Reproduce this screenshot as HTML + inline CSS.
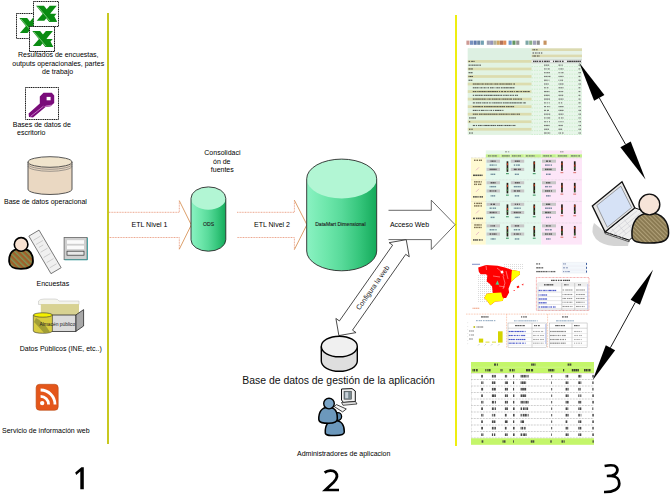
<!DOCTYPE html>
<html><head><meta charset="utf-8">
<style>
html,body{margin:0;padding:0;background:#fff;width:670px;height:494px;overflow:hidden}
svg{display:block;font-family:"Liberation Sans",sans-serif}
.t7{font-size:7px;fill:#000}
</style></head>
<body>
<svg width="670" height="494" viewBox="0 0 670 494">
<defs>
  <linearGradient id="gcyl" x1="0" x2="1" y1="0" y2="0">
    <stop offset="0" stop-color="#8af2c2"/>
    <stop offset="0.3" stop-color="#6ce6aa"/>
    <stop offset="0.5" stop-color="#58da9a"/>
    <stop offset="0.75" stop-color="#36c67c"/>
    <stop offset="1" stop-color="#14aa5a"/>
  </linearGradient>
  <pattern id="stripeBrown" width="4" height="4" patternUnits="userSpaceOnUse" patternTransform="rotate(-45)">
    <rect width="4" height="4" fill="#a0602a"/>
    <rect width="1.4" height="4" fill="#7c9a5a"/>
  </pattern>
  <pattern id="stripeOlive" width="3" height="3" patternUnits="userSpaceOnUse" patternTransform="rotate(-45)">
    <rect width="3" height="3" fill="#8a7a52"/>
    <rect width="1" height="3" fill="#b0a078"/>
  </pattern>
</defs>

<!-- separators -->
<rect x="107" y="13" width="2" height="431" fill="#c8c820"/>
<rect x="455" y="15" width="2" height="431" fill="#eeee10"/>

<!-- ===== column 1 ===== -->
<!-- excel icons -->
<g id="xl">
  <rect x="16.5" y="13.5" width="25" height="25" fill="#fff" stroke="#111" stroke-dasharray="1.2 0.6"/>
  <rect x="33.5" y="1.5" width="25" height="25" fill="#fff" stroke="#111" stroke-dasharray="1.2 0.6"/>
  <rect x="29.5" y="26.5" width="25" height="25" fill="#fff" stroke="#111" stroke-dasharray="1.2 0.6"/>
</g>
<defs>
  <g id="xmark">
    <path d="M2.8,4.6 L10.6,4.6 L23.8,20.6 L15.8,20.6 Z" fill="#0a8c12"/>
    <path d="M16.4,4.6 L23.4,4.6 L11,19.6 L3.4,19.6 Z" fill="#0a8c12"/>
    <path d="M14,12.6 L23.2,12.6 L21,15 L23.8,20.6 L15.8,20.6 Z" fill="#0a8c12"/>
    <path d="M4.5,5.4 L16.6,19.8" stroke="#b8e8b0" stroke-width="0.6"/>
  </g>
</defs>
<svg x="16.5" y="13.5" width="17" height="25" overflow="hidden"><use href="#xmark"/></svg>
<use href="#xmark" x="33.3" y="1.2"/>
<rect x="29.5" y="26.5" width="25" height="25" fill="#fff" stroke="#111" stroke-dasharray="1.2 0.6"/>
<use href="#xmark" x="29.5" y="26.5"/>
<text class="t7" x="18" y="56.5">Resultados de encuestas,</text>
<text class="t7" x="12.3" y="65.5">outputs operacionales, partes</text>
<text class="t7" x="42" y="73.8">de trabajo</text>

<!-- key -->
<rect x="25.5" y="87.5" width="33" height="32" fill="#fff" stroke="#111" stroke-dasharray="1.2 0.6"/>
<path d="M43.5,92.8 L51.8,92.8 L54.2,95.5 L54.2,103 L50.5,106.2 L45.5,107 L33,117.6 L29,117 L28.6,113.5 L39.8,103.5 L39.8,96.5 Z" fill="#7a0c7a"/>
<path d="M45.5,107 L50.5,106.2 L54.2,103 L52.5,104.6 L46,105.6 L43.5,107.2 Z" fill="#c070c0"/>
<path d="M30.5,116.5 L43.5,106.2" stroke="#e0a0e0" stroke-width="0.7"/>
<rect x="46.6" y="96.9" width="4" height="3.4" fill="#fff"/>
<text class="t7" x="12.8" y="126.5">Bases de datos de</text>
<text class="t7" x="17" y="135">escritorio</text>

<!-- operational db -->
<path d="M28,162 v27.2 a22,5.3 0 0 0 44,0 v-27.2" fill="#ead8c2" stroke="#444" stroke-width="0.9"/>
<path d="M28,164 a22,5.3 0 0 0 44,0 M28,166 a22,5.3 0 0 0 44,0" fill="none" stroke="#666" stroke-width="0.6"/>
<ellipse cx="50" cy="162" rx="22" ry="5.3" fill="#f0e4cc" stroke="#444" stroke-width="0.9"/>
<text class="t7" x="4" y="204">Base de datos operacional</text>

<!-- survey person -->
<path d="M9.2,262 C8.5,253 13,248.6 21,248.6 C29,248.6 33,253 33,261 C33,266.5 29,268.8 21,268.8 C13,268.8 9.6,267 9.2,262 Z" fill="url(#stripeBrown)" stroke="#000" stroke-width="1.8"/>
<circle cx="21.1" cy="244.4" r="6.8" fill="#f8e2d2" stroke="#000" stroke-width="1.6"/>
<!-- paper -->
<rect x="39.1" y="230.1" width="11.8" height="43.6" fill="#f0f0f0" stroke="#555" stroke-width="0.7" transform="rotate(-30.5 45 251.9)"/>
<g transform="rotate(-30.5 45 251.9)" stroke="#b0b0b0" stroke-width="0.5" fill="none">
<path d="M41,236 h8 M41,241 h8 M42,245 h5 M41,250 h8 M41,256 h8 M41,262 h8 M41,268 h8"/>
</g>
<!-- form -->
<rect x="64.1" y="237.4" width="23" height="22.2" fill="#cfcfcf" stroke="#666" stroke-width="0.8"/>
<path d="M64.5,259.8 H87.4 V237.8" fill="none" stroke="#40a0a0" stroke-width="1"/>
<rect x="67" y="240.2" width="17" height="3.6" fill="#fafafa"/>
<rect x="67" y="245.6" width="17" height="3.6" fill="#fafafa"/>
<rect x="67" y="251.2" width="17" height="4" fill="#e8e8e8" stroke="#333" stroke-width="0.7"/>
<text class="t7" x="36.5" y="285.7">Encuestas</text>
<!-- public data -->
<path d="M38.5,304.5 V301 Q40,299 44,299 H55 Q58,299 59,301 H79 V304.5 Z" fill="#f4f4ec" stroke="#bbb" stroke-width="0.5"/>
<rect x="40.8" y="304.1" width="38.2" height="10.8" fill="#d8d292"/>
<path d="M75.8,315 L83.6,309.6 V326 L75.8,331.4 Z" fill="#a8a8a8" stroke="#111" stroke-width="0.7"/>
<rect x="51.7" y="315" width="24.1" height="16.4" fill="#dcdcdc" stroke="#111" stroke-width="0.7"/>
<path d="M33.3,315 V331 A9.55,2.3 0 0 0 52.4,331 V315" fill="#d8cc40" stroke="#333" stroke-width="0.6"/>
<path d="M36,318 Q44,322 50,332 L44,333 Q38,326 34,322 Z" fill="#8a8a30" opacity="0.7"/>
<ellipse cx="42.85" cy="315" rx="9.55" ry="2.2" fill="#f4f000" stroke="#333" stroke-width="0.6"/>
<text x="39.4" y="325.8" font-size="4.9" fill="#222">Almacén público</text>
<text class="t7" x="19.7" y="351.3">Datos Públicos (INE, etc..)</text>

<!-- rss -->
<rect x="36.1" y="384.3" width="22.1" height="26" rx="3.5" fill="#e4561a" stroke="#b84a14" stroke-width="0.6"/>
<circle cx="42.2" cy="403.1" r="2.2" fill="#fff"/>
<path d="M40.6,396.4 A8,8 0 0 1 48.6,404.4" fill="none" stroke="#fff" stroke-width="2.8"/>
<path d="M40.6,390 A14.4,14.4 0 0 1 55,404.4" fill="none" stroke="#fff" stroke-width="2.8"/>
<text class="t7" x="2" y="433.2">Servicio de información web</text>

<path d="M75.2,472.4 L81.4,467.3 L83.8,467.3 L83.8,489.3 L80.3,489.3 L80.3,471.6 L76.2,474.9 Z" fill="#000"/>

<!-- ===== column 2 ===== -->
<!-- ETL arrow 1 -->
<path d="M109,212.3 H179.3 V200.7 M179.3,249.2 V237.5 H109" fill="none" stroke="#eca890" stroke-width="1" stroke-dasharray="1 0.6"/>
<path d="M179.3,200.7 L191.3,224.9 L179.3,249.2" fill="none" stroke="#d8945a" stroke-width="0.9"/>
<text class="t7" x="131.6" y="227">ETL Nivel 1</text>

<!-- ODS cylinder -->
<path d="M191,198.3 V239.8 A17.4,11.4 0 0 0 225.8,239.8 V198.3" fill="url(#gcyl)"/>
<ellipse cx="208.4" cy="198.3" rx="17.4" ry="11.4" fill="#b2f6d4"/>
<path d="M191,239.8 V198.3 A17.4,11.4 0 0 1 225.8,198.3 V239.8 A17.4,11.4 0 0 1 191,239.8 Z" fill="none" stroke="#2a2a2a" stroke-width="0.9"/>
<text x="203" y="226.2" font-size="5.1" fill="#222" stroke="#222" stroke-width="0.12">ODS</text>
<text class="t7" x="204.3" y="155">Consolidaci</text>
<text class="t7" x="213" y="163.6">ón de</text>
<text class="t7" x="210.8" y="172">fuentes</text>

<!-- ETL arrow 2 -->
<path d="M237,212.3 H294.4 V200.2 M294.4,249.5 V237.5 H237" fill="none" stroke="#eca890" stroke-width="1" stroke-dasharray="1 0.6"/>
<path d="M294.4,200.2 L306.9,224.7 L294.4,249.5" fill="none" stroke="#d8945a" stroke-width="0.9"/>
<text class="t7" x="254" y="227">ETL Nivel 2</text>

<!-- DataMart -->
<path d="M306.7,178.8 V251 A35,19.8 0 0 0 376.7,251 V178.8" fill="url(#gcyl)"/>
<ellipse cx="341.7" cy="178.8" rx="35" ry="19.7" fill="#b2f6d4"/>
<path d="M306.7,251 V178.8 A35,19.7 0 0 1 376.7,178.8 V251 A35,19.8 0 0 1 306.7,251 Z" fill="none" stroke="#2a2a2a" stroke-width="0.9"/>
<text x="315.2" y="226.2" font-size="5.1" fill="#222" stroke="#222" stroke-width="0.12">DataMart Dimensional</text>
<!-- Acceso web arrow -->
<path d="M388.5,210.3 H431.3 V200.2 L455.1,224.7 L431.3,249.5 V239.6 H388.5" fill="#fff" stroke="#444" stroke-width="0.8"/>
<text class="t7" x="389.9" y="227">Acceso Web</text>

<!-- Configura la web double arrow -->
<g transform="translate(338.9,335.6) rotate(-54.93)">
  <path d="M0,0 L12.3,-12.3 L12.3,-8 L104.9,-8 L104.9,-12.3 L117.2,0 L104.9,12.3 L104.9,8 L12.3,8 L12.3,12.3 Z" fill="#fff" stroke="#333" stroke-width="0.8"/>
  <text x="58.6" y="2.5" text-anchor="middle" font-size="7" fill="#222">Configura la web</text>
</g>

<!-- app db -->
<path d="M321.3,346.5 V361 A18,10.3 0 0 0 357.3,361 V346.5" fill="#dedede" stroke="#000" stroke-width="1.4"/>
<ellipse cx="339.3" cy="346.5" rx="18" ry="10.3" fill="#f0f0f0" stroke="#000" stroke-width="1.4"/>
<text x="242.2" y="384.3" font-size="10.45" fill="#111">Base de datos de gestión de la aplicación</text>

<!-- admin icon -->
<g>
  <path d="M341.5,389 L352,388.6 L355.3,391 L355.3,401.5 L343.5,402.5 L341.5,400 Z" fill="#f2f2f2" stroke="#111" stroke-width="1"/>
  <rect x="344" y="391.2" width="7.5" height="8" fill="#7a8a90" stroke="#333" stroke-width="0.5"/>
  <rect x="345.2" y="392.2" width="3" height="6" fill="#c8d0d8"/>
  <path d="M341.5,402.5 L355.5,401.5 L357,404 L343,405.3 Z" fill="#e0e0e0" stroke="#111" stroke-width="0.7"/>
  <path d="M334.1,406.5 L336.5,404.6 L346.3,409 L342.6,411.9 Z" fill="#f4f4f4" stroke="#111" stroke-width="0.8"/>
  <path d="M325.3,433 C324.8,425 328,420.5 334.8,420.5 C341.5,420.5 344.5,425 344.3,432 C344.3,435 340,435.5 334.8,435.5 C329,435.5 325.4,435.5 325.3,433 Z" fill="#6c98bc" stroke="#000" stroke-width="1.5"/>
  <circle cx="337.8" cy="416.5" r="3.8" fill="#5a86aa" stroke="#000" stroke-width="1.3"/>
  <path d="M318.8,419.5 C318.5,411.5 322,407.2 328.5,407.2 C335,407.2 337.5,411.5 337.3,419 C337.3,422.5 333.5,423.2 328.5,423.2 C323.5,423.2 319,423 318.8,419.5 Z" fill="#6c98bc" stroke="#000" stroke-width="1.5"/>
  <circle cx="329" cy="403.6" r="5.3" fill="#7aa4c6" stroke="#000" stroke-width="1.4"/>
</g>
<text class="t7" x="297" y="456">Administradores de aplicacion</text>
<path d="M324.6,472.6 C327.5,470.3 333,469.9 335.4,472.3 C338,475 337,478.8 333.6,482.3 L325.4,490 L339,490" fill="none" stroke="#000" stroke-width="2.7" stroke-linejoin="miter"/>

<!-- ===== column 3 ===== -->
<!--S-->
<rect x="466.40" y="40.60" width="3.10" height="4.20" fill="#c08078" opacity="0.8"/>
<rect x="470.00" y="40.60" width="3.10" height="4.20" fill="#5a78b0" opacity="0.8"/>
<rect x="473.60" y="40.60" width="3.10" height="4.20" fill="#3a5a98" opacity="0.8"/>
<rect x="477.20" y="40.60" width="3.10" height="4.20" fill="#4a6a90" opacity="0.8"/>
<rect x="480.80" y="40.60" width="3.10" height="4.20" fill="#508aa0" opacity="0.8"/>
<rect x="486.80" y="40.60" width="3.10" height="4.20" fill="#8a8aa0" opacity="0.8"/>
<rect x="490.10" y="40.60" width="3.10" height="4.20" fill="#7a7aa8" opacity="0.8"/>
<rect x="493.40" y="40.60" width="3.10" height="4.20" fill="#a0a080" opacity="0.8"/>
<rect x="496.70" y="40.60" width="3.10" height="4.20" fill="#c09040" opacity="0.8"/>
<rect x="500.00" y="40.60" width="3.10" height="4.20" fill="#a05030" opacity="0.8"/>
<rect x="503.20" y="40.60" width="3.10" height="4.20" fill="#d87030" opacity="0.8"/>
<rect x="508.60" y="40.60" width="3.10" height="4.20" fill="#4a80c0" opacity="0.8"/>
<rect x="512.40" y="40.60" width="3.10" height="4.20" fill="#3a7a3a" opacity="0.8"/>
<rect x="516.20" y="40.60" width="3.10" height="4.20" fill="#7a7a7a" opacity="0.8"/>
<rect x="525.50" y="40.60" width="3.10" height="4.20" fill="#5a9090" opacity="0.8"/>
<rect x="529.20" y="40.60" width="3.10" height="4.20" fill="#6a9a6a" opacity="0.8"/>
<rect x="533.00" y="40.60" width="3.10" height="4.20" fill="#8a8aa8" opacity="0.8"/>
<rect x="536.70" y="40.60" width="3.10" height="4.20" fill="#707070" opacity="0.8"/>
<rect x="543.50" y="40.60" width="3.10" height="4.20" fill="#b87838" opacity="0.8"/>
<rect x="467.80" y="48.30" width="114.20" height="86.50" fill="#e8f6ea" />
<rect x="467.80" y="60.00" width="63.70" height="74.80" fill="#e2f3e2" />
<rect x="467.80" y="48.30" width="63.70" height="11.80" fill="#ddf0e2" />
<rect x="531.50" y="48.40" width="50.50" height="2.60" fill="#dcdab0" />
<rect x="531.50" y="51.00" width="50.50" height="3.60" fill="#e6f2e6" />
<rect x="531.50" y="54.60" width="50.50" height="2.80" fill="#dcdab0" />
<rect x="531.50" y="57.40" width="50.50" height="2.60" fill="#e4efe4" />
<rect x="532.50" y="49.05" width="1.13" height="1.30" fill="#555" opacity="0.85"/>
<rect x="533.93" y="49.05" width="1.32" height="1.30" fill="#555" opacity="0.85"/>
<rect x="536.15" y="49.05" width="1.35" height="1.30" fill="#555" opacity="0.85"/>
<rect x="532.50" y="52.35" width="1.65" height="1.30" fill="#555" opacity="0.85"/>
<rect x="535.05" y="52.35" width="1.16" height="1.30" fill="#555" opacity="0.85"/>
<rect x="536.51" y="52.35" width="1.07" height="1.30" fill="#555" opacity="0.85"/>
<rect x="538.48" y="52.35" width="1.56" height="1.30" fill="#555" opacity="0.85"/>
<rect x="540.94" y="52.35" width="1.36" height="1.30" fill="#555" opacity="0.85"/>
<rect x="532.50" y="55.35" width="1.12" height="1.30" fill="#555" opacity="0.85"/>
<rect x="533.92" y="55.35" width="2.02" height="1.30" fill="#555" opacity="0.85"/>
<rect x="536.84" y="55.35" width="1.84" height="1.30" fill="#555" opacity="0.85"/>
<rect x="538.98" y="55.35" width="0.52" height="1.30" fill="#555" opacity="0.85"/>
<rect x="531.50" y="60.00" width="50.50" height="2.80" fill="#f4f4f4" />
<path d="M531.5,60 H582 M531.5,62.8 H582" stroke="#999" stroke-width="0.4"/>
<rect x="533.00" y="60.70" width="1.22" height="1.40" fill="#222" opacity="0.85"/>
<rect x="534.52" y="60.70" width="1.95" height="1.40" fill="#222" opacity="0.85"/>
<rect x="536.77" y="60.70" width="1.46" height="1.40" fill="#222" opacity="0.85"/>
<rect x="539.14" y="60.70" width="1.80" height="1.40" fill="#222" opacity="0.85"/>
<rect x="541.84" y="60.70" width="1.35" height="1.40" fill="#222" opacity="0.85"/>
<rect x="544.09" y="60.70" width="2.15" height="1.40" fill="#222" opacity="0.85"/>
<rect x="546.54" y="60.70" width="2.03" height="1.40" fill="#222" opacity="0.85"/>
<rect x="548.87" y="60.70" width="0.85" height="1.40" fill="#222" opacity="0.85"/>
<rect x="553.00" y="60.70" width="1.10" height="1.40" fill="#222" opacity="0.85"/>
<rect x="555.00" y="60.70" width="1.89" height="1.40" fill="#222" opacity="0.85"/>
<rect x="557.19" y="60.70" width="1.39" height="1.40" fill="#222" opacity="0.85"/>
<rect x="559.48" y="60.70" width="1.60" height="1.40" fill="#222" opacity="0.85"/>
<rect x="561.99" y="60.70" width="1.62" height="1.40" fill="#222" opacity="0.85"/>
<rect x="567.00" y="60.70" width="1.75" height="1.40" fill="#222" opacity="0.85"/>
<rect x="569.05" y="60.70" width="2.00" height="1.40" fill="#222" opacity="0.85"/>
<rect x="571.35" y="60.70" width="1.78" height="1.40" fill="#222" opacity="0.85"/>
<rect x="573.43" y="60.70" width="2.15" height="1.40" fill="#222" opacity="0.85"/>
<rect x="575.88" y="60.70" width="1.80" height="1.40" fill="#222" opacity="0.85"/>
<rect x="577.98" y="60.70" width="1.69" height="1.40" fill="#222" opacity="0.85"/>
<rect x="579.97" y="60.70" width="1.03" height="1.40" fill="#222" opacity="0.85"/>
<rect x="467.80" y="60.05" width="63.70" height="2.70" fill="#dcdcae" />
<rect x="468.50" y="60.85" width="1.47" height="1.10" fill="#2a2a2a" opacity="0.77"/>
<rect x="470.87" y="60.85" width="0.92" height="1.10" fill="#2a2a2a" opacity="0.77"/>
<rect x="472.10" y="60.85" width="1.37" height="1.10" fill="#2a2a2a" opacity="0.77"/>
<rect x="473.77" y="60.85" width="0.83" height="1.10" fill="#2a2a2a" opacity="0.77"/>
<rect x="468.50" y="64.62" width="1.88" height="1.10" fill="#2a2a2a" opacity="0.77"/>
<rect x="470.68" y="64.62" width="0.86" height="1.10" fill="#2a2a2a" opacity="0.77"/>
<rect x="471.84" y="64.62" width="1.33" height="1.10" fill="#2a2a2a" opacity="0.77"/>
<rect x="473.47" y="64.62" width="1.57" height="1.10" fill="#2a2a2a" opacity="0.77"/>
<rect x="475.34" y="64.62" width="1.51" height="1.10" fill="#2a2a2a" opacity="0.77"/>
<rect x="477.15" y="64.62" width="1.23" height="1.10" fill="#2a2a2a" opacity="0.77"/>
<rect x="478.68" y="64.62" width="0.95" height="1.10" fill="#2a2a2a" opacity="0.77"/>
<rect x="479.93" y="64.62" width="1.07" height="1.10" fill="#2a2a2a" opacity="0.77"/>
<rect x="544.00" y="64.57" width="1.17" height="1.20" fill="#444" opacity="0.68"/>
<rect x="545.47" y="64.57" width="2.17" height="1.20" fill="#444" opacity="0.68"/>
<rect x="547.94" y="64.57" width="1.24" height="1.20" fill="#444" opacity="0.68"/>
<rect x="558.50" y="64.57" width="2.06" height="1.20" fill="#444" opacity="0.68"/>
<rect x="561.46" y="64.57" width="1.33" height="1.20" fill="#444" opacity="0.68"/>
<rect x="578.50" y="64.57" width="1.70" height="1.20" fill="#444" opacity="0.68"/>
<rect x="467.80" y="67.59" width="63.70" height="2.70" fill="#dcdcae" />
<rect x="468.50" y="68.39" width="1.67" height="1.10" fill="#2a2a2a" opacity="0.77"/>
<rect x="470.47" y="68.39" width="1.40" height="1.10" fill="#2a2a2a" opacity="0.77"/>
<rect x="472.17" y="68.39" width="0.83" height="1.10" fill="#2a2a2a" opacity="0.77"/>
<rect x="544.00" y="68.34" width="1.53" height="1.20" fill="#444" opacity="0.68"/>
<rect x="545.83" y="68.34" width="0.82" height="1.20" fill="#444" opacity="0.68"/>
<rect x="547.55" y="68.34" width="2.18" height="1.20" fill="#444" opacity="0.68"/>
<rect x="558.50" y="68.34" width="0.83" height="1.20" fill="#444" opacity="0.68"/>
<rect x="559.63" y="68.34" width="0.88" height="1.20" fill="#444" opacity="0.68"/>
<rect x="560.81" y="68.34" width="1.45" height="1.20" fill="#444" opacity="0.68"/>
<rect x="562.56" y="68.34" width="0.94" height="1.20" fill="#444" opacity="0.68"/>
<rect x="578.50" y="68.34" width="1.83" height="1.20" fill="#444" opacity="0.68"/>
<rect x="468.50" y="72.16" width="1.63" height="1.10" fill="#2a2a2a" opacity="0.77"/>
<rect x="470.43" y="72.16" width="2.15" height="1.10" fill="#2a2a2a" opacity="0.77"/>
<rect x="544.00" y="72.11" width="1.22" height="1.20" fill="#444" opacity="0.68"/>
<rect x="545.52" y="72.11" width="1.05" height="1.20" fill="#444" opacity="0.68"/>
<rect x="546.87" y="72.11" width="1.24" height="1.20" fill="#444" opacity="0.68"/>
<rect x="548.40" y="72.11" width="1.54" height="1.20" fill="#444" opacity="0.68"/>
<rect x="558.50" y="72.11" width="1.22" height="1.20" fill="#444" opacity="0.68"/>
<rect x="560.62" y="72.11" width="0.95" height="1.20" fill="#444" opacity="0.68"/>
<rect x="561.87" y="72.11" width="1.63" height="1.20" fill="#444" opacity="0.68"/>
<rect x="578.50" y="72.11" width="1.23" height="1.20" fill="#444" opacity="0.68"/>
<rect x="580.03" y="72.11" width="0.97" height="1.20" fill="#444" opacity="0.68"/>
<rect x="467.80" y="75.13" width="63.70" height="2.70" fill="#dcdcae" />
<rect x="468.50" y="75.93" width="1.13" height="1.10" fill="#2a2a2a" opacity="0.77"/>
<rect x="469.93" y="75.93" width="1.75" height="1.10" fill="#2a2a2a" opacity="0.77"/>
<rect x="471.98" y="75.93" width="0.94" height="1.10" fill="#2a2a2a" opacity="0.77"/>
<rect x="544.00" y="75.88" width="1.74" height="1.20" fill="#444" opacity="0.68"/>
<rect x="546.04" y="75.88" width="1.41" height="1.20" fill="#444" opacity="0.68"/>
<rect x="547.76" y="75.88" width="0.91" height="1.20" fill="#444" opacity="0.68"/>
<rect x="548.97" y="75.88" width="1.45" height="1.20" fill="#444" opacity="0.68"/>
<rect x="558.50" y="75.88" width="1.18" height="1.20" fill="#444" opacity="0.68"/>
<rect x="559.98" y="75.88" width="0.85" height="1.20" fill="#444" opacity="0.68"/>
<rect x="561.13" y="75.88" width="1.24" height="1.20" fill="#444" opacity="0.68"/>
<rect x="562.67" y="75.88" width="0.83" height="1.20" fill="#444" opacity="0.68"/>
<rect x="578.50" y="75.88" width="1.93" height="1.20" fill="#444" opacity="0.68"/>
<rect x="468.50" y="79.70" width="1.93" height="1.10" fill="#2a2a2a" opacity="0.77"/>
<rect x="470.73" y="79.70" width="1.63" height="1.10" fill="#2a2a2a" opacity="0.77"/>
<rect x="544.00" y="79.65" width="1.91" height="1.20" fill="#444" opacity="0.68"/>
<rect x="546.21" y="79.65" width="1.45" height="1.20" fill="#444" opacity="0.68"/>
<rect x="548.56" y="79.65" width="0.88" height="1.20" fill="#444" opacity="0.68"/>
<rect x="558.50" y="79.65" width="0.85" height="1.20" fill="#444" opacity="0.68"/>
<rect x="560.25" y="79.65" width="1.02" height="1.20" fill="#444" opacity="0.68"/>
<rect x="561.57" y="79.65" width="1.47" height="1.20" fill="#444" opacity="0.68"/>
<rect x="578.50" y="79.65" width="1.58" height="1.20" fill="#444" opacity="0.68"/>
<rect x="580.38" y="79.65" width="0.62" height="1.20" fill="#444" opacity="0.68"/>
<rect x="467.80" y="82.67" width="63.70" height="2.70" fill="#dcdcae" />
<rect x="472.80" y="83.47" width="1.97" height="1.10" fill="#2a2a2a" opacity="0.77"/>
<rect x="475.07" y="83.47" width="1.56" height="1.10" fill="#2a2a2a" opacity="0.77"/>
<rect x="476.93" y="83.47" width="2.01" height="1.10" fill="#2a2a2a" opacity="0.77"/>
<rect x="479.24" y="83.47" width="0.97" height="1.10" fill="#2a2a2a" opacity="0.77"/>
<rect x="480.51" y="83.47" width="0.86" height="1.10" fill="#2a2a2a" opacity="0.77"/>
<rect x="481.67" y="83.47" width="2.06" height="1.10" fill="#2a2a2a" opacity="0.77"/>
<rect x="484.63" y="83.47" width="1.61" height="1.10" fill="#2a2a2a" opacity="0.77"/>
<rect x="486.53" y="83.47" width="1.47" height="1.10" fill="#2a2a2a" opacity="0.77"/>
<rect x="488.31" y="83.47" width="1.04" height="1.10" fill="#2a2a2a" opacity="0.77"/>
<rect x="489.65" y="83.47" width="1.13" height="1.10" fill="#2a2a2a" opacity="0.77"/>
<rect x="491.08" y="83.47" width="1.53" height="1.10" fill="#2a2a2a" opacity="0.77"/>
<rect x="493.52" y="83.47" width="0.87" height="1.10" fill="#2a2a2a" opacity="0.77"/>
<rect x="494.69" y="83.47" width="1.28" height="1.10" fill="#2a2a2a" opacity="0.77"/>
<rect x="496.27" y="83.47" width="2.16" height="1.10" fill="#2a2a2a" opacity="0.77"/>
<rect x="499.33" y="83.47" width="1.94" height="1.10" fill="#2a2a2a" opacity="0.77"/>
<rect x="501.57" y="83.47" width="1.29" height="1.10" fill="#2a2a2a" opacity="0.77"/>
<rect x="503.16" y="83.47" width="0.97" height="1.10" fill="#2a2a2a" opacity="0.77"/>
<rect x="504.43" y="83.47" width="1.04" height="1.10" fill="#2a2a2a" opacity="0.77"/>
<rect x="505.77" y="83.47" width="2.09" height="1.10" fill="#2a2a2a" opacity="0.77"/>
<rect x="508.16" y="83.47" width="1.95" height="1.10" fill="#2a2a2a" opacity="0.77"/>
<rect x="510.41" y="83.47" width="1.48" height="1.10" fill="#2a2a2a" opacity="0.77"/>
<rect x="512.80" y="83.47" width="0.87" height="1.10" fill="#2a2a2a" opacity="0.77"/>
<rect x="513.97" y="83.47" width="1.03" height="1.10" fill="#2a2a2a" opacity="0.77"/>
<rect x="544.00" y="83.42" width="1.25" height="1.20" fill="#444" opacity="0.68"/>
<rect x="545.55" y="83.42" width="2.00" height="1.20" fill="#444" opacity="0.68"/>
<rect x="547.85" y="83.42" width="0.86" height="1.20" fill="#444" opacity="0.68"/>
<rect x="558.50" y="83.42" width="0.90" height="1.20" fill="#444" opacity="0.68"/>
<rect x="559.70" y="83.42" width="2.00" height="1.20" fill="#444" opacity="0.68"/>
<rect x="561.99" y="83.42" width="1.51" height="1.20" fill="#444" opacity="0.68"/>
<rect x="578.50" y="83.42" width="1.24" height="1.20" fill="#444" opacity="0.68"/>
<rect x="580.04" y="83.42" width="0.90" height="1.20" fill="#444" opacity="0.68"/>
<rect x="472.80" y="87.24" width="1.71" height="1.10" fill="#2a2a2a" opacity="0.77"/>
<rect x="474.81" y="87.24" width="1.31" height="1.10" fill="#2a2a2a" opacity="0.77"/>
<rect x="476.41" y="87.24" width="2.18" height="1.10" fill="#2a2a2a" opacity="0.77"/>
<rect x="479.49" y="87.24" width="0.97" height="1.10" fill="#2a2a2a" opacity="0.77"/>
<rect x="480.77" y="87.24" width="1.80" height="1.10" fill="#2a2a2a" opacity="0.77"/>
<rect x="483.47" y="87.24" width="1.91" height="1.10" fill="#2a2a2a" opacity="0.77"/>
<rect x="485.68" y="87.24" width="0.86" height="1.10" fill="#2a2a2a" opacity="0.77"/>
<rect x="487.44" y="87.24" width="1.65" height="1.10" fill="#2a2a2a" opacity="0.77"/>
<rect x="489.99" y="87.24" width="1.69" height="1.10" fill="#2a2a2a" opacity="0.77"/>
<rect x="491.98" y="87.24" width="1.67" height="1.10" fill="#2a2a2a" opacity="0.77"/>
<rect x="494.55" y="87.24" width="0.87" height="1.10" fill="#2a2a2a" opacity="0.77"/>
<rect x="496.33" y="87.24" width="1.86" height="1.10" fill="#2a2a2a" opacity="0.77"/>
<rect x="498.49" y="87.24" width="1.39" height="1.10" fill="#2a2a2a" opacity="0.77"/>
<rect x="500.78" y="87.24" width="1.45" height="1.10" fill="#2a2a2a" opacity="0.77"/>
<rect x="502.53" y="87.24" width="1.11" height="1.10" fill="#2a2a2a" opacity="0.77"/>
<rect x="503.93" y="87.24" width="1.77" height="1.10" fill="#2a2a2a" opacity="0.77"/>
<rect x="506.00" y="87.24" width="1.92" height="1.10" fill="#2a2a2a" opacity="0.77"/>
<rect x="508.23" y="87.24" width="1.40" height="1.10" fill="#2a2a2a" opacity="0.77"/>
<rect x="509.93" y="87.24" width="2.11" height="1.10" fill="#2a2a2a" opacity="0.77"/>
<rect x="512.34" y="87.24" width="2.16" height="1.10" fill="#2a2a2a" opacity="0.77"/>
<rect x="544.00" y="87.19" width="1.77" height="1.20" fill="#444" opacity="0.68"/>
<rect x="546.67" y="87.19" width="1.73" height="1.20" fill="#444" opacity="0.68"/>
<rect x="558.50" y="87.19" width="1.59" height="1.20" fill="#444" opacity="0.68"/>
<rect x="560.39" y="87.19" width="1.94" height="1.20" fill="#444" opacity="0.68"/>
<rect x="562.63" y="87.19" width="0.87" height="1.20" fill="#444" opacity="0.68"/>
<rect x="578.50" y="87.19" width="1.88" height="1.20" fill="#444" opacity="0.68"/>
<rect x="467.80" y="90.21" width="63.70" height="2.70" fill="#dcdcae" />
<rect x="472.80" y="91.01" width="1.54" height="1.10" fill="#2a2a2a" opacity="0.77"/>
<rect x="474.64" y="91.01" width="1.72" height="1.10" fill="#2a2a2a" opacity="0.77"/>
<rect x="477.26" y="91.01" width="1.05" height="1.10" fill="#2a2a2a" opacity="0.77"/>
<rect x="478.61" y="91.01" width="1.28" height="1.10" fill="#2a2a2a" opacity="0.77"/>
<rect x="480.19" y="91.01" width="0.84" height="1.10" fill="#2a2a2a" opacity="0.77"/>
<rect x="481.33" y="91.01" width="1.74" height="1.10" fill="#2a2a2a" opacity="0.77"/>
<rect x="483.37" y="91.01" width="1.61" height="1.10" fill="#2a2a2a" opacity="0.77"/>
<rect x="485.28" y="91.01" width="0.85" height="1.10" fill="#2a2a2a" opacity="0.77"/>
<rect x="486.43" y="91.01" width="0.95" height="1.10" fill="#2a2a2a" opacity="0.77"/>
<rect x="487.68" y="91.01" width="2.11" height="1.10" fill="#2a2a2a" opacity="0.77"/>
<rect x="490.09" y="91.01" width="1.57" height="1.10" fill="#2a2a2a" opacity="0.77"/>
<rect x="491.96" y="91.01" width="1.96" height="1.10" fill="#2a2a2a" opacity="0.77"/>
<rect x="494.22" y="91.01" width="2.20" height="1.10" fill="#2a2a2a" opacity="0.77"/>
<rect x="496.71" y="91.01" width="1.44" height="1.10" fill="#2a2a2a" opacity="0.77"/>
<rect x="499.05" y="91.01" width="1.15" height="1.10" fill="#2a2a2a" opacity="0.77"/>
<rect x="501.10" y="91.01" width="2.11" height="1.10" fill="#2a2a2a" opacity="0.77"/>
<rect x="504.12" y="91.01" width="2.15" height="1.10" fill="#2a2a2a" opacity="0.77"/>
<rect x="507.17" y="91.01" width="1.50" height="1.10" fill="#2a2a2a" opacity="0.77"/>
<rect x="509.57" y="91.01" width="1.98" height="1.10" fill="#2a2a2a" opacity="0.77"/>
<rect x="511.85" y="91.01" width="1.38" height="1.10" fill="#2a2a2a" opacity="0.77"/>
<rect x="514.13" y="91.01" width="1.02" height="1.10" fill="#2a2a2a" opacity="0.77"/>
<rect x="516.05" y="91.01" width="2.06" height="1.10" fill="#2a2a2a" opacity="0.77"/>
<rect x="518.41" y="91.01" width="1.03" height="1.10" fill="#2a2a2a" opacity="0.77"/>
<rect x="520.34" y="91.01" width="1.85" height="1.10" fill="#2a2a2a" opacity="0.77"/>
<rect x="523.08" y="91.01" width="1.62" height="1.10" fill="#2a2a2a" opacity="0.77"/>
<rect x="525.01" y="91.01" width="0.99" height="1.10" fill="#2a2a2a" opacity="0.77"/>
<rect x="526.30" y="91.01" width="1.01" height="1.10" fill="#2a2a2a" opacity="0.77"/>
<rect x="527.60" y="91.01" width="2.11" height="1.10" fill="#2a2a2a" opacity="0.77"/>
<rect x="544.00" y="90.96" width="2.00" height="1.20" fill="#444" opacity="0.68"/>
<rect x="546.30" y="90.96" width="2.05" height="1.20" fill="#444" opacity="0.68"/>
<rect x="548.64" y="90.96" width="0.83" height="1.20" fill="#444" opacity="0.68"/>
<rect x="558.50" y="90.96" width="1.93" height="1.20" fill="#444" opacity="0.68"/>
<rect x="560.73" y="90.96" width="1.04" height="1.20" fill="#444" opacity="0.68"/>
<rect x="562.07" y="90.96" width="1.13" height="1.20" fill="#444" opacity="0.68"/>
<rect x="578.50" y="90.96" width="1.88" height="1.20" fill="#444" opacity="0.68"/>
<rect x="472.80" y="94.78" width="1.39" height="1.10" fill="#2a2a2a" opacity="0.77"/>
<rect x="475.09" y="94.78" width="1.78" height="1.10" fill="#2a2a2a" opacity="0.77"/>
<rect x="477.17" y="94.78" width="1.46" height="1.10" fill="#2a2a2a" opacity="0.77"/>
<rect x="478.92" y="94.78" width="1.47" height="1.10" fill="#2a2a2a" opacity="0.77"/>
<rect x="480.70" y="94.78" width="2.00" height="1.10" fill="#2a2a2a" opacity="0.77"/>
<rect x="483.60" y="94.78" width="1.90" height="1.10" fill="#2a2a2a" opacity="0.77"/>
<rect x="485.79" y="94.78" width="1.45" height="1.10" fill="#2a2a2a" opacity="0.77"/>
<rect x="487.55" y="94.78" width="2.05" height="1.10" fill="#2a2a2a" opacity="0.77"/>
<rect x="489.89" y="94.78" width="2.14" height="1.10" fill="#2a2a2a" opacity="0.77"/>
<rect x="492.34" y="94.78" width="1.14" height="1.10" fill="#2a2a2a" opacity="0.77"/>
<rect x="493.78" y="94.78" width="1.89" height="1.10" fill="#2a2a2a" opacity="0.77"/>
<rect x="495.96" y="94.78" width="1.06" height="1.10" fill="#2a2a2a" opacity="0.77"/>
<rect x="497.32" y="94.78" width="2.06" height="1.10" fill="#2a2a2a" opacity="0.77"/>
<rect x="499.68" y="94.78" width="1.04" height="1.10" fill="#2a2a2a" opacity="0.77"/>
<rect x="501.02" y="94.78" width="1.24" height="1.10" fill="#2a2a2a" opacity="0.77"/>
<rect x="503.16" y="94.78" width="0.93" height="1.10" fill="#2a2a2a" opacity="0.77"/>
<rect x="504.39" y="94.78" width="0.97" height="1.10" fill="#2a2a2a" opacity="0.77"/>
<rect x="505.65" y="94.78" width="1.97" height="1.10" fill="#2a2a2a" opacity="0.77"/>
<rect x="507.92" y="94.78" width="0.85" height="1.10" fill="#2a2a2a" opacity="0.77"/>
<rect x="509.67" y="94.78" width="1.61" height="1.10" fill="#2a2a2a" opacity="0.77"/>
<rect x="511.58" y="94.78" width="0.81" height="1.10" fill="#2a2a2a" opacity="0.77"/>
<rect x="512.69" y="94.78" width="1.26" height="1.10" fill="#2a2a2a" opacity="0.77"/>
<rect x="514.86" y="94.78" width="1.48" height="1.10" fill="#2a2a2a" opacity="0.77"/>
<rect x="516.64" y="94.78" width="1.36" height="1.10" fill="#2a2a2a" opacity="0.77"/>
<rect x="544.00" y="94.73" width="1.56" height="1.20" fill="#444" opacity="0.68"/>
<rect x="545.86" y="94.73" width="2.04" height="1.20" fill="#444" opacity="0.68"/>
<rect x="548.20" y="94.73" width="1.39" height="1.20" fill="#444" opacity="0.68"/>
<rect x="558.50" y="94.73" width="1.41" height="1.20" fill="#444" opacity="0.68"/>
<rect x="560.21" y="94.73" width="0.94" height="1.20" fill="#444" opacity="0.68"/>
<rect x="561.45" y="94.73" width="1.75" height="1.20" fill="#444" opacity="0.68"/>
<rect x="578.50" y="94.73" width="1.86" height="1.20" fill="#444" opacity="0.68"/>
<rect x="467.80" y="97.75" width="63.70" height="2.70" fill="#dcdcae" />
<rect x="472.80" y="98.55" width="1.73" height="1.10" fill="#2a2a2a" opacity="0.77"/>
<rect x="474.83" y="98.55" width="0.95" height="1.10" fill="#2a2a2a" opacity="0.77"/>
<rect x="476.08" y="98.55" width="1.74" height="1.10" fill="#2a2a2a" opacity="0.77"/>
<rect x="478.12" y="98.55" width="1.73" height="1.10" fill="#2a2a2a" opacity="0.77"/>
<rect x="480.15" y="98.55" width="0.88" height="1.10" fill="#2a2a2a" opacity="0.77"/>
<rect x="481.34" y="98.55" width="1.75" height="1.10" fill="#2a2a2a" opacity="0.77"/>
<rect x="483.39" y="98.55" width="1.70" height="1.10" fill="#2a2a2a" opacity="0.77"/>
<rect x="485.39" y="98.55" width="1.05" height="1.10" fill="#2a2a2a" opacity="0.77"/>
<rect x="487.34" y="98.55" width="0.97" height="1.10" fill="#2a2a2a" opacity="0.77"/>
<rect x="488.61" y="98.55" width="2.09" height="1.10" fill="#2a2a2a" opacity="0.77"/>
<rect x="491.60" y="98.55" width="1.58" height="1.10" fill="#2a2a2a" opacity="0.77"/>
<rect x="493.48" y="98.55" width="1.44" height="1.10" fill="#2a2a2a" opacity="0.77"/>
<rect x="495.22" y="98.55" width="1.90" height="1.10" fill="#2a2a2a" opacity="0.77"/>
<rect x="497.42" y="98.55" width="0.95" height="1.10" fill="#2a2a2a" opacity="0.77"/>
<rect x="498.67" y="98.55" width="1.86" height="1.10" fill="#2a2a2a" opacity="0.77"/>
<rect x="501.42" y="98.55" width="1.30" height="1.10" fill="#2a2a2a" opacity="0.77"/>
<rect x="503.03" y="98.55" width="1.18" height="1.10" fill="#2a2a2a" opacity="0.77"/>
<rect x="504.50" y="98.55" width="2.02" height="1.10" fill="#2a2a2a" opacity="0.77"/>
<rect x="506.83" y="98.55" width="1.47" height="1.10" fill="#2a2a2a" opacity="0.77"/>
<rect x="508.60" y="98.55" width="1.15" height="1.10" fill="#2a2a2a" opacity="0.77"/>
<rect x="510.04" y="98.55" width="2.03" height="1.10" fill="#2a2a2a" opacity="0.77"/>
<rect x="512.97" y="98.55" width="1.43" height="1.10" fill="#2a2a2a" opacity="0.77"/>
<rect x="514.70" y="98.55" width="1.29" height="1.10" fill="#2a2a2a" opacity="0.77"/>
<rect x="516.29" y="98.55" width="1.01" height="1.10" fill="#2a2a2a" opacity="0.77"/>
<rect x="517.60" y="98.55" width="1.75" height="1.10" fill="#2a2a2a" opacity="0.77"/>
<rect x="519.66" y="98.55" width="1.06" height="1.10" fill="#2a2a2a" opacity="0.77"/>
<rect x="521.01" y="98.55" width="0.99" height="1.10" fill="#2a2a2a" opacity="0.77"/>
<rect x="544.00" y="98.50" width="1.85" height="1.20" fill="#444" opacity="0.68"/>
<rect x="546.15" y="98.50" width="2.00" height="1.20" fill="#444" opacity="0.68"/>
<rect x="548.45" y="98.50" width="1.56" height="1.20" fill="#444" opacity="0.68"/>
<rect x="558.50" y="98.50" width="1.60" height="1.20" fill="#444" opacity="0.68"/>
<rect x="560.40" y="98.50" width="2.02" height="1.20" fill="#444" opacity="0.68"/>
<rect x="562.71" y="98.50" width="0.79" height="1.20" fill="#444" opacity="0.68"/>
<rect x="578.50" y="98.50" width="1.98" height="1.20" fill="#444" opacity="0.68"/>
<rect x="472.80" y="102.32" width="2.05" height="1.10" fill="#2a2a2a" opacity="0.77"/>
<rect x="475.75" y="102.32" width="1.24" height="1.10" fill="#2a2a2a" opacity="0.77"/>
<rect x="477.29" y="102.32" width="1.69" height="1.10" fill="#2a2a2a" opacity="0.77"/>
<rect x="479.28" y="102.32" width="2.05" height="1.10" fill="#2a2a2a" opacity="0.77"/>
<rect x="482.23" y="102.32" width="0.84" height="1.10" fill="#2a2a2a" opacity="0.77"/>
<rect x="483.37" y="102.32" width="1.82" height="1.10" fill="#2a2a2a" opacity="0.77"/>
<rect x="485.49" y="102.32" width="0.95" height="1.10" fill="#2a2a2a" opacity="0.77"/>
<rect x="486.74" y="102.32" width="1.49" height="1.10" fill="#2a2a2a" opacity="0.77"/>
<rect x="489.13" y="102.32" width="1.08" height="1.10" fill="#2a2a2a" opacity="0.77"/>
<rect x="490.51" y="102.32" width="0.85" height="1.10" fill="#2a2a2a" opacity="0.77"/>
<rect x="492.26" y="102.32" width="0.96" height="1.10" fill="#2a2a2a" opacity="0.77"/>
<rect x="493.52" y="102.32" width="2.14" height="1.10" fill="#2a2a2a" opacity="0.77"/>
<rect x="495.96" y="102.32" width="0.99" height="1.10" fill="#2a2a2a" opacity="0.77"/>
<rect x="497.25" y="102.32" width="1.67" height="1.10" fill="#2a2a2a" opacity="0.77"/>
<rect x="499.22" y="102.32" width="0.84" height="1.10" fill="#2a2a2a" opacity="0.77"/>
<rect x="500.36" y="102.32" width="1.51" height="1.10" fill="#2a2a2a" opacity="0.77"/>
<rect x="502.77" y="102.32" width="1.55" height="1.10" fill="#2a2a2a" opacity="0.77"/>
<rect x="504.62" y="102.32" width="1.25" height="1.10" fill="#2a2a2a" opacity="0.77"/>
<rect x="506.17" y="102.32" width="1.77" height="1.10" fill="#2a2a2a" opacity="0.77"/>
<rect x="508.24" y="102.32" width="0.91" height="1.10" fill="#2a2a2a" opacity="0.77"/>
<rect x="509.46" y="102.32" width="1.80" height="1.10" fill="#2a2a2a" opacity="0.77"/>
<rect x="511.56" y="102.32" width="2.20" height="1.10" fill="#2a2a2a" opacity="0.77"/>
<rect x="514.06" y="102.32" width="2.10" height="1.10" fill="#2a2a2a" opacity="0.77"/>
<rect x="516.46" y="102.32" width="1.41" height="1.10" fill="#2a2a2a" opacity="0.77"/>
<rect x="518.17" y="102.32" width="1.48" height="1.10" fill="#2a2a2a" opacity="0.77"/>
<rect x="519.95" y="102.32" width="1.90" height="1.10" fill="#2a2a2a" opacity="0.77"/>
<rect x="522.75" y="102.32" width="0.91" height="1.10" fill="#2a2a2a" opacity="0.77"/>
<rect x="523.96" y="102.32" width="1.79" height="1.10" fill="#2a2a2a" opacity="0.77"/>
<rect x="544.00" y="102.27" width="1.78" height="1.20" fill="#444" opacity="0.68"/>
<rect x="546.68" y="102.27" width="1.09" height="1.20" fill="#444" opacity="0.68"/>
<rect x="548.67" y="102.27" width="1.07" height="1.20" fill="#444" opacity="0.68"/>
<rect x="558.50" y="102.27" width="1.44" height="1.20" fill="#444" opacity="0.68"/>
<rect x="560.84" y="102.27" width="1.41" height="1.20" fill="#444" opacity="0.68"/>
<rect x="578.50" y="102.27" width="2.06" height="1.20" fill="#444" opacity="0.68"/>
<rect x="467.80" y="105.29" width="63.70" height="2.70" fill="#dcdcae" />
<rect x="472.80" y="106.09" width="1.31" height="1.10" fill="#2a2a2a" opacity="0.77"/>
<rect x="474.41" y="106.09" width="1.43" height="1.10" fill="#2a2a2a" opacity="0.77"/>
<rect x="476.14" y="106.09" width="1.64" height="1.10" fill="#2a2a2a" opacity="0.77"/>
<rect x="478.08" y="106.09" width="2.16" height="1.10" fill="#2a2a2a" opacity="0.77"/>
<rect x="480.53" y="106.09" width="1.16" height="1.10" fill="#2a2a2a" opacity="0.77"/>
<rect x="482.00" y="106.09" width="1.00" height="1.10" fill="#2a2a2a" opacity="0.77"/>
<rect x="483.90" y="106.09" width="1.55" height="1.10" fill="#2a2a2a" opacity="0.77"/>
<rect x="485.74" y="106.09" width="1.09" height="1.10" fill="#2a2a2a" opacity="0.77"/>
<rect x="487.14" y="106.09" width="1.62" height="1.10" fill="#2a2a2a" opacity="0.77"/>
<rect x="489.05" y="106.09" width="1.69" height="1.10" fill="#2a2a2a" opacity="0.77"/>
<rect x="491.05" y="106.09" width="0.95" height="1.10" fill="#2a2a2a" opacity="0.77"/>
<rect x="492.30" y="106.09" width="1.42" height="1.10" fill="#2a2a2a" opacity="0.77"/>
<rect x="494.02" y="106.09" width="0.88" height="1.10" fill="#2a2a2a" opacity="0.77"/>
<rect x="495.20" y="106.09" width="1.36" height="1.10" fill="#2a2a2a" opacity="0.77"/>
<rect x="496.87" y="106.09" width="1.37" height="1.10" fill="#2a2a2a" opacity="0.77"/>
<rect x="498.54" y="106.09" width="1.13" height="1.10" fill="#2a2a2a" opacity="0.77"/>
<rect x="499.97" y="106.09" width="1.36" height="1.10" fill="#2a2a2a" opacity="0.77"/>
<rect x="501.63" y="106.09" width="2.07" height="1.10" fill="#2a2a2a" opacity="0.77"/>
<rect x="504.00" y="106.09" width="1.14" height="1.10" fill="#2a2a2a" opacity="0.77"/>
<rect x="506.04" y="106.09" width="1.46" height="1.10" fill="#2a2a2a" opacity="0.77"/>
<rect x="507.80" y="106.09" width="1.27" height="1.10" fill="#2a2a2a" opacity="0.77"/>
<rect x="509.37" y="106.09" width="1.28" height="1.10" fill="#2a2a2a" opacity="0.77"/>
<rect x="510.96" y="106.09" width="1.63" height="1.10" fill="#2a2a2a" opacity="0.77"/>
<rect x="512.89" y="106.09" width="1.19" height="1.10" fill="#2a2a2a" opacity="0.77"/>
<rect x="544.00" y="106.04" width="2.15" height="1.20" fill="#444" opacity="0.68"/>
<rect x="547.05" y="106.04" width="1.15" height="1.20" fill="#444" opacity="0.68"/>
<rect x="548.50" y="106.04" width="0.84" height="1.20" fill="#444" opacity="0.68"/>
<rect x="549.64" y="106.04" width="0.55" height="1.20" fill="#444" opacity="0.68"/>
<rect x="558.50" y="106.04" width="1.24" height="1.20" fill="#444" opacity="0.68"/>
<rect x="560.04" y="106.04" width="1.76" height="1.20" fill="#444" opacity="0.68"/>
<rect x="562.10" y="106.04" width="1.40" height="1.20" fill="#444" opacity="0.68"/>
<rect x="578.50" y="106.04" width="0.95" height="1.20" fill="#444" opacity="0.68"/>
<rect x="579.75" y="106.04" width="0.83" height="1.20" fill="#444" opacity="0.68"/>
<rect x="472.80" y="109.86" width="1.47" height="1.10" fill="#2a2a2a" opacity="0.77"/>
<rect x="474.57" y="109.86" width="1.72" height="1.10" fill="#2a2a2a" opacity="0.77"/>
<rect x="476.59" y="109.86" width="1.08" height="1.10" fill="#2a2a2a" opacity="0.77"/>
<rect x="478.57" y="109.86" width="1.28" height="1.10" fill="#2a2a2a" opacity="0.77"/>
<rect x="480.75" y="109.86" width="2.08" height="1.10" fill="#2a2a2a" opacity="0.77"/>
<rect x="483.13" y="109.86" width="1.34" height="1.10" fill="#2a2a2a" opacity="0.77"/>
<rect x="485.37" y="109.86" width="0.92" height="1.10" fill="#2a2a2a" opacity="0.77"/>
<rect x="486.59" y="109.86" width="1.06" height="1.10" fill="#2a2a2a" opacity="0.77"/>
<rect x="488.55" y="109.86" width="0.96" height="1.10" fill="#2a2a2a" opacity="0.77"/>
<rect x="490.41" y="109.86" width="1.57" height="1.10" fill="#2a2a2a" opacity="0.77"/>
<rect x="492.87" y="109.86" width="1.04" height="1.10" fill="#2a2a2a" opacity="0.77"/>
<rect x="494.82" y="109.86" width="1.97" height="1.10" fill="#2a2a2a" opacity="0.77"/>
<rect x="497.09" y="109.86" width="2.09" height="1.10" fill="#2a2a2a" opacity="0.77"/>
<rect x="499.48" y="109.86" width="1.92" height="1.10" fill="#2a2a2a" opacity="0.77"/>
<rect x="502.30" y="109.86" width="1.12" height="1.10" fill="#2a2a2a" opacity="0.77"/>
<rect x="544.00" y="109.81" width="1.95" height="1.20" fill="#444" opacity="0.68"/>
<rect x="546.85" y="109.81" width="2.13" height="1.20" fill="#444" opacity="0.68"/>
<rect x="558.50" y="109.81" width="1.02" height="1.20" fill="#444" opacity="0.68"/>
<rect x="559.82" y="109.81" width="1.95" height="1.20" fill="#444" opacity="0.68"/>
<rect x="562.07" y="109.81" width="1.43" height="1.20" fill="#444" opacity="0.68"/>
<rect x="578.50" y="109.81" width="1.25" height="1.20" fill="#444" opacity="0.68"/>
<rect x="580.05" y="109.81" width="0.95" height="1.20" fill="#444" opacity="0.68"/>
<rect x="467.80" y="112.83" width="63.70" height="2.70" fill="#dcdcae" />
<rect x="472.80" y="113.63" width="1.43" height="1.10" fill="#2a2a2a" opacity="0.77"/>
<rect x="474.53" y="113.63" width="2.20" height="1.10" fill="#2a2a2a" opacity="0.77"/>
<rect x="477.03" y="113.63" width="0.90" height="1.10" fill="#2a2a2a" opacity="0.77"/>
<rect x="478.83" y="113.63" width="1.90" height="1.10" fill="#2a2a2a" opacity="0.77"/>
<rect x="481.03" y="113.63" width="1.27" height="1.10" fill="#2a2a2a" opacity="0.77"/>
<rect x="482.60" y="113.63" width="0.95" height="1.10" fill="#2a2a2a" opacity="0.77"/>
<rect x="483.86" y="113.63" width="1.95" height="1.10" fill="#2a2a2a" opacity="0.77"/>
<rect x="486.11" y="113.63" width="1.14" height="1.10" fill="#2a2a2a" opacity="0.77"/>
<rect x="487.54" y="113.63" width="2.17" height="1.10" fill="#2a2a2a" opacity="0.77"/>
<rect x="490.01" y="113.63" width="1.62" height="1.10" fill="#2a2a2a" opacity="0.77"/>
<rect x="491.93" y="113.63" width="0.96" height="1.10" fill="#2a2a2a" opacity="0.77"/>
<rect x="493.19" y="113.63" width="2.15" height="1.10" fill="#2a2a2a" opacity="0.77"/>
<rect x="495.64" y="113.63" width="1.99" height="1.10" fill="#2a2a2a" opacity="0.77"/>
<rect x="498.53" y="113.63" width="1.51" height="1.10" fill="#2a2a2a" opacity="0.77"/>
<rect x="500.34" y="113.63" width="1.90" height="1.10" fill="#2a2a2a" opacity="0.77"/>
<rect x="502.55" y="113.63" width="1.45" height="1.10" fill="#2a2a2a" opacity="0.77"/>
<rect x="504.30" y="113.63" width="0.86" height="1.10" fill="#2a2a2a" opacity="0.77"/>
<rect x="505.46" y="113.63" width="1.64" height="1.10" fill="#2a2a2a" opacity="0.77"/>
<rect x="507.40" y="113.63" width="1.08" height="1.10" fill="#2a2a2a" opacity="0.77"/>
<rect x="508.77" y="113.63" width="0.92" height="1.10" fill="#2a2a2a" opacity="0.77"/>
<rect x="510.59" y="113.63" width="1.36" height="1.10" fill="#2a2a2a" opacity="0.77"/>
<rect x="512.25" y="113.63" width="1.70" height="1.10" fill="#2a2a2a" opacity="0.77"/>
<rect x="514.25" y="113.63" width="1.36" height="1.10" fill="#2a2a2a" opacity="0.77"/>
<rect x="516.52" y="113.63" width="1.89" height="1.10" fill="#2a2a2a" opacity="0.77"/>
<rect x="518.70" y="113.63" width="1.30" height="1.10" fill="#2a2a2a" opacity="0.77"/>
<rect x="544.00" y="113.58" width="1.09" height="1.20" fill="#444" opacity="0.68"/>
<rect x="545.39" y="113.58" width="1.45" height="1.20" fill="#444" opacity="0.68"/>
<rect x="547.14" y="113.58" width="1.28" height="1.20" fill="#444" opacity="0.68"/>
<rect x="548.72" y="113.58" width="1.48" height="1.20" fill="#444" opacity="0.68"/>
<rect x="558.50" y="113.58" width="2.09" height="1.20" fill="#444" opacity="0.68"/>
<rect x="560.89" y="113.58" width="1.39" height="1.20" fill="#444" opacity="0.68"/>
<rect x="562.59" y="113.58" width="0.91" height="1.20" fill="#444" opacity="0.68"/>
<rect x="578.50" y="113.58" width="1.15" height="1.20" fill="#444" opacity="0.68"/>
<rect x="579.95" y="113.58" width="1.05" height="1.20" fill="#444" opacity="0.68"/>
<rect x="469.00" y="117.40" width="1.41" height="1.10" fill="#2a2a2a" opacity="0.77"/>
<rect x="470.71" y="117.40" width="1.11" height="1.10" fill="#2a2a2a" opacity="0.77"/>
<rect x="472.12" y="117.40" width="1.85" height="1.10" fill="#2a2a2a" opacity="0.77"/>
<rect x="474.27" y="117.40" width="1.73" height="1.10" fill="#2a2a2a" opacity="0.77"/>
<rect x="544.00" y="117.35" width="1.55" height="1.20" fill="#444" opacity="0.68"/>
<rect x="546.45" y="117.35" width="1.31" height="1.20" fill="#444" opacity="0.68"/>
<rect x="548.06" y="117.35" width="2.06" height="1.20" fill="#444" opacity="0.68"/>
<rect x="558.50" y="117.35" width="1.48" height="1.20" fill="#444" opacity="0.68"/>
<rect x="560.88" y="117.35" width="1.46" height="1.20" fill="#444" opacity="0.68"/>
<rect x="562.64" y="117.35" width="0.86" height="1.20" fill="#444" opacity="0.68"/>
<rect x="578.50" y="117.35" width="1.06" height="1.20" fill="#444" opacity="0.68"/>
<rect x="579.86" y="117.35" width="0.84" height="1.20" fill="#444" opacity="0.68"/>
<rect x="467.80" y="120.37" width="63.70" height="2.70" fill="#dcdcae" />
<rect x="469.00" y="121.17" width="1.21" height="1.10" fill="#2a2a2a" opacity="0.77"/>
<rect x="544.00" y="121.12" width="0.86" height="1.20" fill="#444" opacity="0.68"/>
<rect x="545.16" y="121.12" width="1.19" height="1.20" fill="#444" opacity="0.68"/>
<rect x="547.24" y="121.12" width="0.85" height="1.20" fill="#444" opacity="0.68"/>
<rect x="549.00" y="121.12" width="0.96" height="1.20" fill="#444" opacity="0.68"/>
<rect x="558.50" y="121.12" width="1.00" height="1.20" fill="#444" opacity="0.68"/>
<rect x="560.40" y="121.12" width="1.22" height="1.20" fill="#444" opacity="0.68"/>
<rect x="562.52" y="121.12" width="0.98" height="1.20" fill="#444" opacity="0.68"/>
<rect x="578.50" y="121.12" width="1.01" height="1.20" fill="#444" opacity="0.68"/>
<rect x="579.81" y="121.12" width="1.19" height="1.20" fill="#444" opacity="0.68"/>
<rect x="472.80" y="124.94" width="2.12" height="1.10" fill="#2a2a2a" opacity="0.77"/>
<rect x="475.82" y="124.94" width="1.24" height="1.10" fill="#2a2a2a" opacity="0.77"/>
<rect x="477.96" y="124.94" width="1.46" height="1.10" fill="#2a2a2a" opacity="0.77"/>
<rect x="479.72" y="124.94" width="1.30" height="1.10" fill="#2a2a2a" opacity="0.77"/>
<rect x="481.32" y="124.94" width="1.20" height="1.10" fill="#2a2a2a" opacity="0.77"/>
<rect x="483.42" y="124.94" width="1.32" height="1.10" fill="#2a2a2a" opacity="0.77"/>
<rect x="485.05" y="124.94" width="1.93" height="1.10" fill="#2a2a2a" opacity="0.77"/>
<rect x="487.28" y="124.94" width="1.85" height="1.10" fill="#2a2a2a" opacity="0.77"/>
<rect x="489.42" y="124.94" width="0.82" height="1.10" fill="#2a2a2a" opacity="0.77"/>
<rect x="490.54" y="124.94" width="1.55" height="1.10" fill="#2a2a2a" opacity="0.77"/>
<rect x="492.39" y="124.94" width="2.13" height="1.10" fill="#2a2a2a" opacity="0.77"/>
<rect x="494.82" y="124.94" width="1.09" height="1.10" fill="#2a2a2a" opacity="0.77"/>
<rect x="496.81" y="124.94" width="1.30" height="1.10" fill="#2a2a2a" opacity="0.77"/>
<rect x="498.41" y="124.94" width="2.17" height="1.10" fill="#2a2a2a" opacity="0.77"/>
<rect x="500.88" y="124.94" width="1.49" height="1.10" fill="#2a2a2a" opacity="0.77"/>
<rect x="502.66" y="124.94" width="0.82" height="1.10" fill="#2a2a2a" opacity="0.77"/>
<rect x="504.38" y="124.94" width="2.07" height="1.10" fill="#2a2a2a" opacity="0.77"/>
<rect x="506.75" y="124.94" width="1.64" height="1.10" fill="#2a2a2a" opacity="0.77"/>
<rect x="508.69" y="124.94" width="1.43" height="1.10" fill="#2a2a2a" opacity="0.77"/>
<rect x="510.42" y="124.94" width="1.15" height="1.10" fill="#2a2a2a" opacity="0.77"/>
<rect x="512.47" y="124.94" width="1.39" height="1.10" fill="#2a2a2a" opacity="0.77"/>
<rect x="514.15" y="124.94" width="1.28" height="1.10" fill="#2a2a2a" opacity="0.77"/>
<rect x="544.00" y="124.89" width="1.68" height="1.20" fill="#444" opacity="0.68"/>
<rect x="545.98" y="124.89" width="2.08" height="1.20" fill="#444" opacity="0.68"/>
<rect x="548.36" y="124.89" width="1.29" height="1.20" fill="#444" opacity="0.68"/>
<rect x="558.50" y="124.89" width="1.51" height="1.20" fill="#444" opacity="0.68"/>
<rect x="560.31" y="124.89" width="1.57" height="1.20" fill="#444" opacity="0.68"/>
<rect x="562.18" y="124.89" width="0.82" height="1.20" fill="#444" opacity="0.68"/>
<rect x="578.50" y="124.89" width="0.82" height="1.20" fill="#444" opacity="0.68"/>
<rect x="579.62" y="124.89" width="1.38" height="1.20" fill="#444" opacity="0.68"/>
<rect x="467.80" y="127.91" width="63.70" height="2.70" fill="#dcdcae" />
<rect x="469.00" y="128.71" width="1.45" height="1.10" fill="#2a2a2a" opacity="0.77"/>
<rect x="471.35" y="128.71" width="1.32" height="1.10" fill="#2a2a2a" opacity="0.77"/>
<rect x="544.00" y="128.66" width="0.90" height="1.20" fill="#444" opacity="0.68"/>
<rect x="545.20" y="128.66" width="2.19" height="1.20" fill="#444" opacity="0.68"/>
<rect x="547.69" y="128.66" width="1.37" height="1.20" fill="#444" opacity="0.68"/>
<rect x="558.50" y="128.66" width="1.42" height="1.20" fill="#444" opacity="0.68"/>
<rect x="560.22" y="128.66" width="1.92" height="1.20" fill="#444" opacity="0.68"/>
<rect x="578.50" y="128.66" width="1.20" height="1.20" fill="#444" opacity="0.68"/>
<rect x="580.00" y="128.66" width="1.00" height="1.20" fill="#444" opacity="0.68"/>
<rect x="469.00" y="132.48" width="1.53" height="1.10" fill="#2a2a2a" opacity="0.77"/>
<rect x="471.43" y="132.48" width="1.48" height="1.10" fill="#2a2a2a" opacity="0.77"/>
<rect x="544.00" y="132.43" width="2.10" height="1.20" fill="#444" opacity="0.68"/>
<rect x="546.40" y="132.43" width="0.84" height="1.20" fill="#444" opacity="0.68"/>
<rect x="547.55" y="132.43" width="1.48" height="1.20" fill="#444" opacity="0.68"/>
<rect x="549.33" y="132.43" width="0.91" height="1.20" fill="#444" opacity="0.68"/>
<rect x="558.50" y="132.43" width="0.94" height="1.20" fill="#444" opacity="0.68"/>
<rect x="559.74" y="132.43" width="1.32" height="1.20" fill="#444" opacity="0.68"/>
<rect x="561.96" y="132.43" width="1.54" height="1.20" fill="#444" opacity="0.68"/>
<rect x="578.50" y="132.43" width="1.07" height="1.20" fill="#444" opacity="0.68"/>
<rect x="579.87" y="132.43" width="1.05" height="1.20" fill="#444" opacity="0.68"/>
<path d="M531.5,66.57 h50.5" stroke="#c8ecc8" stroke-width="0.8" stroke-dasharray="1.5 1"/>
<path d="M531.5,70.34 h50.5" stroke="#c8ecc8" stroke-width="0.8" stroke-dasharray="1.5 1"/>
<path d="M531.5,74.11 h50.5" stroke="#c8ecc8" stroke-width="0.8" stroke-dasharray="1.5 1"/>
<path d="M531.5,77.88 h50.5" stroke="#c8ecc8" stroke-width="0.8" stroke-dasharray="1.5 1"/>
<path d="M531.5,81.65 h50.5" stroke="#c8ecc8" stroke-width="0.8" stroke-dasharray="1.5 1"/>
<path d="M531.5,85.42 h50.5" stroke="#c8ecc8" stroke-width="0.8" stroke-dasharray="1.5 1"/>
<path d="M531.5,89.19 h50.5" stroke="#c8ecc8" stroke-width="0.8" stroke-dasharray="1.5 1"/>
<path d="M531.5,92.96 h50.5" stroke="#c8ecc8" stroke-width="0.8" stroke-dasharray="1.5 1"/>
<path d="M531.5,96.73 h50.5" stroke="#c8ecc8" stroke-width="0.8" stroke-dasharray="1.5 1"/>
<path d="M531.5,100.50 h50.5" stroke="#c8ecc8" stroke-width="0.8" stroke-dasharray="1.5 1"/>
<path d="M531.5,104.27 h50.5" stroke="#c8ecc8" stroke-width="0.8" stroke-dasharray="1.5 1"/>
<path d="M531.5,108.04 h50.5" stroke="#c8ecc8" stroke-width="0.8" stroke-dasharray="1.5 1"/>
<path d="M531.5,111.81 h50.5" stroke="#c8ecc8" stroke-width="0.8" stroke-dasharray="1.5 1"/>
<path d="M531.5,115.58 h50.5" stroke="#c8ecc8" stroke-width="0.8" stroke-dasharray="1.5 1"/>
<path d="M531.5,119.35 h50.5" stroke="#c8ecc8" stroke-width="0.8" stroke-dasharray="1.5 1"/>
<path d="M531.5,123.12 h50.5" stroke="#c8ecc8" stroke-width="0.8" stroke-dasharray="1.5 1"/>
<path d="M531.5,126.89 h50.5" stroke="#c8ecc8" stroke-width="0.8" stroke-dasharray="1.5 1"/>
<path d="M531.5,130.66 h50.5" stroke="#c8ecc8" stroke-width="0.8" stroke-dasharray="1.5 1"/>
<path d="M531.5,134.43 h50.5" stroke="#c8ecc8" stroke-width="0.8" stroke-dasharray="1.5 1"/>
<rect x="485.80" y="150.40" width="55.50" height="3.60" fill="#e8f8ec" />
<rect x="541.30" y="150.40" width="40.70" height="3.60" fill="#fbe6f6" />
<rect x="505.00" y="151.25" width="2.12" height="1.10" fill="#888" opacity="0.85"/>
<rect x="508.02" y="151.25" width="1.24" height="1.10" fill="#888" opacity="0.85"/>
<rect x="560.00" y="151.25" width="1.10" height="1.10" fill="#888" opacity="0.85"/>
<rect x="561.40" y="151.25" width="2.12" height="1.10" fill="#888" opacity="0.85"/>
<rect x="485.80" y="154.30" width="96.20" height="3.30" fill="#c2f08a" />
<rect x="488.00" y="155.35" width="1.65" height="1.10" fill="#556" opacity="0.85"/>
<rect x="489.95" y="155.35" width="0.85" height="1.10" fill="#556" opacity="0.85"/>
<rect x="491.70" y="155.35" width="1.15" height="1.10" fill="#556" opacity="0.85"/>
<rect x="493.15" y="155.35" width="1.49" height="1.10" fill="#556" opacity="0.85"/>
<rect x="494.95" y="155.35" width="1.83" height="1.10" fill="#556" opacity="0.85"/>
<rect x="502.00" y="155.35" width="1.84" height="1.10" fill="#556" opacity="0.85"/>
<rect x="504.14" y="155.35" width="1.68" height="1.10" fill="#556" opacity="0.85"/>
<rect x="506.12" y="155.35" width="2.12" height="1.10" fill="#556" opacity="0.85"/>
<rect x="508.54" y="155.35" width="1.40" height="1.10" fill="#556" opacity="0.85"/>
<rect x="512.00" y="155.35" width="1.45" height="1.10" fill="#556" opacity="0.85"/>
<rect x="513.75" y="155.35" width="1.56" height="1.10" fill="#556" opacity="0.85"/>
<rect x="515.61" y="155.35" width="1.04" height="1.10" fill="#556" opacity="0.85"/>
<rect x="517.56" y="155.35" width="2.14" height="1.10" fill="#556" opacity="0.85"/>
<rect x="520.00" y="155.35" width="1.00" height="1.10" fill="#556" opacity="0.85"/>
<rect x="526.00" y="155.35" width="1.77" height="1.10" fill="#556" opacity="0.85"/>
<rect x="528.67" y="155.35" width="1.74" height="1.10" fill="#556" opacity="0.85"/>
<rect x="530.71" y="155.35" width="1.00" height="1.10" fill="#556" opacity="0.85"/>
<rect x="532.01" y="155.35" width="1.05" height="1.10" fill="#556" opacity="0.85"/>
<rect x="533.36" y="155.35" width="1.24" height="1.10" fill="#556" opacity="0.85"/>
<rect x="543.30" y="155.35" width="2.02" height="1.10" fill="#556" opacity="0.85"/>
<rect x="545.62" y="155.35" width="1.53" height="1.10" fill="#556" opacity="0.85"/>
<rect x="547.46" y="155.35" width="1.55" height="1.10" fill="#556" opacity="0.85"/>
<rect x="549.91" y="155.35" width="1.89" height="1.10" fill="#556" opacity="0.85"/>
<rect x="558.00" y="155.35" width="1.35" height="1.10" fill="#556" opacity="0.85"/>
<rect x="559.65" y="155.35" width="1.19" height="1.10" fill="#556" opacity="0.85"/>
<rect x="561.14" y="155.35" width="0.96" height="1.10" fill="#556" opacity="0.85"/>
<rect x="562.40" y="155.35" width="0.98" height="1.10" fill="#556" opacity="0.85"/>
<rect x="563.68" y="155.35" width="2.11" height="1.10" fill="#556" opacity="0.85"/>
<rect x="566.09" y="155.35" width="0.91" height="1.10" fill="#556" opacity="0.85"/>
<rect x="571.00" y="155.35" width="2.12" height="1.10" fill="#556" opacity="0.85"/>
<rect x="573.42" y="155.35" width="2.17" height="1.10" fill="#556" opacity="0.85"/>
<rect x="575.89" y="155.35" width="0.89" height="1.10" fill="#556" opacity="0.85"/>
<rect x="577.68" y="155.35" width="0.95" height="1.10" fill="#556" opacity="0.85"/>
<rect x="578.92" y="155.35" width="1.08" height="1.10" fill="#556" opacity="0.85"/>
<path d="M500.2,154.3 v3.3 M510.2,154.3 v3.3 M524.2,154.3 v3.3 M541.3,154.3 v3.3 M556.2,154.3 v3.3 M569.2,154.3 v3.3" stroke="#fff" stroke-width="0.5"/>
<rect x="471.00" y="157.80" width="14.80" height="86.80" fill="#fffad2" />
<rect x="485.80" y="157.80" width="55.50" height="86.80" fill="#e4f8ee" />
<rect x="541.30" y="157.80" width="40.70" height="86.80" fill="#fde6f8" />
<path d="M471,157.8 h111" stroke="#bbb" stroke-width="0.5" stroke-dasharray="0.7 0.7"/>
<rect x="474.00" y="159.60" width="1.54" height="1.40" fill="#6a5a40" opacity="0.85"/>
<rect x="476.44" y="159.60" width="1.60" height="1.40" fill="#6a5a40" opacity="0.85"/>
<rect x="478.94" y="159.60" width="1.55" height="1.40" fill="#6a5a40" opacity="0.85"/>
<rect x="480.79" y="159.60" width="1.21" height="1.40" fill="#6a5a40" opacity="0.85"/>
<path d="M476,170.30 l3,-3" stroke="#e0a0c0" stroke-width="0.7"/>
<rect x="473.00" y="174.55" width="1.97" height="1.50" fill="#333" opacity="0.85"/>
<rect x="475.27" y="174.55" width="1.86" height="1.50" fill="#333" opacity="0.85"/>
<rect x="477.43" y="174.55" width="2.11" height="1.50" fill="#333" opacity="0.85"/>
<rect x="479.83" y="174.55" width="1.22" height="1.50" fill="#333" opacity="0.85"/>
<rect x="481.35" y="174.55" width="1.24" height="1.50" fill="#333" opacity="0.85"/>
<rect x="486.60" y="159.70" width="13.40" height="3.00" fill="#c6c6c6" />
<rect x="490.60" y="160.50" width="0.98" height="1.40" fill="#444" opacity="0.85"/>
<rect x="491.88" y="160.50" width="1.37" height="1.40" fill="#444" opacity="0.85"/>
<rect x="493.56" y="160.50" width="0.96" height="1.40" fill="#444" opacity="0.85"/>
<rect x="494.82" y="160.50" width="0.78" height="1.40" fill="#444" opacity="0.85"/>
<rect x="489.60" y="164.40" width="1.91" height="1.40" fill="#4a6a80" opacity="0.77"/>
<rect x="491.81" y="164.40" width="1.54" height="1.40" fill="#4a6a80" opacity="0.77"/>
<rect x="493.65" y="164.40" width="0.93" height="1.40" fill="#4a6a80" opacity="0.77"/>
<rect x="495.48" y="164.40" width="1.12" height="1.40" fill="#4a6a80" opacity="0.77"/>
<rect x="486.60" y="167.90" width="13.40" height="3.00" fill="#c6c6c6" />
<rect x="489.60" y="168.70" width="1.25" height="1.40" fill="#444" opacity="0.85"/>
<rect x="491.15" y="168.70" width="1.69" height="1.40" fill="#444" opacity="0.85"/>
<rect x="493.14" y="168.70" width="1.78" height="1.40" fill="#444" opacity="0.85"/>
<rect x="495.23" y="168.70" width="1.37" height="1.40" fill="#444" opacity="0.85"/>
<rect x="490.60" y="173.60" width="1.20" height="1.40" fill="#4a6a80" opacity="0.77"/>
<rect x="492.10" y="173.60" width="1.18" height="1.40" fill="#4a6a80" opacity="0.77"/>
<rect x="493.58" y="173.60" width="1.64" height="1.40" fill="#4a6a80" opacity="0.77"/>
<rect x="510.80" y="159.70" width="13.40" height="3.00" fill="#c6c6c6" />
<rect x="514.80" y="160.50" width="1.83" height="1.40" fill="#444" opacity="0.85"/>
<rect x="516.93" y="160.50" width="1.82" height="1.40" fill="#444" opacity="0.85"/>
<rect x="519.05" y="160.50" width="0.75" height="1.40" fill="#444" opacity="0.85"/>
<rect x="513.80" y="164.40" width="1.43" height="1.40" fill="#4a6a80" opacity="0.77"/>
<rect x="516.13" y="164.40" width="1.27" height="1.40" fill="#4a6a80" opacity="0.77"/>
<rect x="517.70" y="164.40" width="2.18" height="1.40" fill="#4a6a80" opacity="0.77"/>
<rect x="510.80" y="167.90" width="13.40" height="3.00" fill="#c6c6c6" />
<rect x="513.80" y="168.70" width="2.19" height="1.40" fill="#444" opacity="0.85"/>
<rect x="516.29" y="168.70" width="0.90" height="1.40" fill="#444" opacity="0.85"/>
<rect x="518.09" y="168.70" width="1.57" height="1.40" fill="#444" opacity="0.85"/>
<rect x="519.96" y="168.70" width="0.84" height="1.40" fill="#444" opacity="0.85"/>
<rect x="514.80" y="173.60" width="1.34" height="1.40" fill="#4a6a80" opacity="0.77"/>
<rect x="516.44" y="173.60" width="1.31" height="1.40" fill="#4a6a80" opacity="0.77"/>
<rect x="518.05" y="173.60" width="0.88" height="1.40" fill="#4a6a80" opacity="0.77"/>
<rect x="542.00" y="159.70" width="14.00" height="3.00" fill="#c6c6c6" />
<rect x="546.00" y="160.50" width="2.04" height="1.40" fill="#444" opacity="0.85"/>
<rect x="548.94" y="160.50" width="1.83" height="1.40" fill="#444" opacity="0.85"/>
<rect x="545.00" y="164.40" width="1.80" height="1.40" fill="#4a6a80" opacity="0.77"/>
<rect x="547.10" y="164.40" width="0.82" height="1.40" fill="#4a6a80" opacity="0.77"/>
<rect x="548.21" y="164.40" width="1.51" height="1.40" fill="#4a6a80" opacity="0.77"/>
<rect x="550.62" y="164.40" width="1.38" height="1.40" fill="#4a6a80" opacity="0.77"/>
<rect x="542.00" y="167.90" width="14.00" height="3.00" fill="#c6c6c6" />
<rect x="545.00" y="168.70" width="1.62" height="1.40" fill="#444" opacity="0.85"/>
<rect x="546.92" y="168.70" width="1.25" height="1.40" fill="#444" opacity="0.85"/>
<rect x="548.47" y="168.70" width="1.32" height="1.40" fill="#444" opacity="0.85"/>
<rect x="550.09" y="168.70" width="1.00" height="1.40" fill="#444" opacity="0.85"/>
<rect x="551.39" y="168.70" width="0.61" height="1.40" fill="#444" opacity="0.85"/>
<rect x="546.00" y="173.60" width="1.20" height="1.40" fill="#4a6a80" opacity="0.77"/>
<rect x="547.50" y="173.60" width="0.84" height="1.40" fill="#4a6a80" opacity="0.77"/>
<rect x="548.64" y="173.60" width="1.55" height="1.40" fill="#4a6a80" opacity="0.77"/>
<rect x="550.48" y="173.60" width="0.52" height="1.40" fill="#4a6a80" opacity="0.77"/>
<rect x="506.60" y="161.30" width="1.70" height="10.50" fill="#262018" />
<rect x="506.90" y="163.22" width="1.10" height="2.00" fill="#c83a18" />
<rect x="506.90" y="168.16" width="1.10" height="1.40" fill="#3a8a3a" />
<rect x="506.00" y="173.00" width="2.80" height="1.20" fill="#50a070" />
<rect x="533.40" y="161.30" width="1.70" height="10.50" fill="#262018" />
<rect x="533.70" y="162.26" width="1.10" height="2.00" fill="#c83a18" />
<rect x="533.70" y="168.56" width="1.10" height="1.40" fill="#3a8a3a" />
<rect x="532.80" y="173.00" width="2.80" height="1.20" fill="#50a070" />
<rect x="561.10" y="161.30" width="1.70" height="9.50" fill="#262018" />
<rect x="561.40" y="163.03" width="1.10" height="2.00" fill="#c83a18" />
<rect x="561.40" y="167.75" width="1.10" height="1.40" fill="#3a8a3a" />
<rect x="560.50" y="172.00" width="2.80" height="1.20" fill="#e08080" />
<rect x="573.90" y="161.30" width="1.70" height="9.50" fill="#262018" />
<rect x="574.20" y="164.57" width="1.10" height="2.00" fill="#c83a18" />
<rect x="574.20" y="167.37" width="1.10" height="1.40" fill="#3a8a3a" />
<rect x="573.30" y="172.00" width="2.80" height="1.20" fill="#e08080" />
<path d="M471,179.85 h111" stroke="#c8c8c8" stroke-width="0.5" stroke-dasharray="0.7 0.7"/>
<rect x="474.00" y="181.15" width="1.07" height="1.40" fill="#6a5a40" opacity="0.85"/>
<rect x="475.37" y="181.15" width="1.64" height="1.40" fill="#6a5a40" opacity="0.85"/>
<rect x="477.30" y="181.15" width="1.40" height="1.40" fill="#6a5a40" opacity="0.85"/>
<rect x="479.01" y="181.15" width="1.34" height="1.40" fill="#6a5a40" opacity="0.85"/>
<rect x="481.24" y="181.15" width="0.76" height="1.40" fill="#6a5a40" opacity="0.85"/>
<rect x="474.00" y="183.65" width="1.46" height="1.40" fill="#6a5a40" opacity="0.85"/>
<rect x="475.76" y="183.65" width="1.34" height="1.40" fill="#6a5a40" opacity="0.85"/>
<rect x="478.01" y="183.65" width="1.62" height="1.40" fill="#6a5a40" opacity="0.85"/>
<rect x="479.93" y="183.65" width="1.41" height="1.40" fill="#6a5a40" opacity="0.85"/>
<path d="M476,191.85 l3,-3" stroke="#e0a0c0" stroke-width="0.7"/>
<rect x="473.00" y="196.10" width="1.70" height="1.50" fill="#333" opacity="0.85"/>
<rect x="475.00" y="196.10" width="0.89" height="1.50" fill="#333" opacity="0.85"/>
<rect x="476.19" y="196.10" width="0.89" height="1.50" fill="#333" opacity="0.85"/>
<rect x="477.38" y="196.10" width="1.25" height="1.50" fill="#333" opacity="0.85"/>
<rect x="479.53" y="196.10" width="1.68" height="1.50" fill="#333" opacity="0.85"/>
<rect x="481.52" y="196.10" width="1.48" height="1.50" fill="#333" opacity="0.85"/>
<rect x="486.60" y="181.25" width="13.40" height="3.00" fill="#c6c6c6" />
<rect x="490.60" y="182.05" width="1.70" height="1.40" fill="#444" opacity="0.85"/>
<rect x="492.60" y="182.05" width="2.04" height="1.40" fill="#444" opacity="0.85"/>
<rect x="494.94" y="182.05" width="0.66" height="1.40" fill="#444" opacity="0.85"/>
<rect x="489.60" y="185.95" width="0.87" height="1.40" fill="#4a6a80" opacity="0.77"/>
<rect x="490.77" y="185.95" width="2.06" height="1.40" fill="#4a6a80" opacity="0.77"/>
<rect x="493.14" y="185.95" width="1.60" height="1.40" fill="#4a6a80" opacity="0.77"/>
<rect x="495.04" y="185.95" width="1.05" height="1.40" fill="#4a6a80" opacity="0.77"/>
<rect x="486.60" y="189.45" width="13.40" height="3.00" fill="#c6c6c6" />
<rect x="489.60" y="190.25" width="1.95" height="1.40" fill="#444" opacity="0.85"/>
<rect x="492.45" y="190.25" width="1.20" height="1.40" fill="#444" opacity="0.85"/>
<rect x="494.55" y="190.25" width="1.73" height="1.40" fill="#444" opacity="0.85"/>
<rect x="490.60" y="195.15" width="1.08" height="1.40" fill="#4a6a80" opacity="0.77"/>
<rect x="491.98" y="195.15" width="1.28" height="1.40" fill="#4a6a80" opacity="0.77"/>
<rect x="493.56" y="195.15" width="1.61" height="1.40" fill="#4a6a80" opacity="0.77"/>
<rect x="510.80" y="181.25" width="13.40" height="3.00" fill="#c6c6c6" />
<rect x="514.80" y="182.05" width="1.67" height="1.40" fill="#444" opacity="0.85"/>
<rect x="516.77" y="182.05" width="1.24" height="1.40" fill="#444" opacity="0.85"/>
<rect x="518.31" y="182.05" width="1.43" height="1.40" fill="#444" opacity="0.85"/>
<rect x="513.80" y="185.95" width="2.00" height="1.40" fill="#4a6a80" opacity="0.77"/>
<rect x="516.10" y="185.95" width="1.49" height="1.40" fill="#4a6a80" opacity="0.77"/>
<rect x="517.89" y="185.95" width="1.06" height="1.40" fill="#4a6a80" opacity="0.77"/>
<rect x="519.25" y="185.95" width="1.55" height="1.40" fill="#4a6a80" opacity="0.77"/>
<rect x="510.80" y="189.45" width="13.40" height="3.00" fill="#c6c6c6" />
<rect x="513.80" y="190.25" width="2.10" height="1.40" fill="#444" opacity="0.85"/>
<rect x="516.80" y="190.25" width="1.98" height="1.40" fill="#444" opacity="0.85"/>
<rect x="519.08" y="190.25" width="1.06" height="1.40" fill="#444" opacity="0.85"/>
<rect x="514.80" y="195.15" width="1.26" height="1.40" fill="#4a6a80" opacity="0.77"/>
<rect x="516.36" y="195.15" width="1.34" height="1.40" fill="#4a6a80" opacity="0.77"/>
<rect x="518.00" y="195.15" width="1.13" height="1.40" fill="#4a6a80" opacity="0.77"/>
<rect x="542.00" y="181.25" width="14.00" height="3.00" fill="#c6c6c6" />
<rect x="546.00" y="182.05" width="1.34" height="1.40" fill="#444" opacity="0.85"/>
<rect x="547.64" y="182.05" width="1.20" height="1.40" fill="#444" opacity="0.85"/>
<rect x="549.14" y="182.05" width="1.17" height="1.40" fill="#444" opacity="0.85"/>
<rect x="545.00" y="185.95" width="1.83" height="1.40" fill="#4a6a80" opacity="0.77"/>
<rect x="547.13" y="185.95" width="1.11" height="1.40" fill="#4a6a80" opacity="0.77"/>
<rect x="549.13" y="185.95" width="1.04" height="1.40" fill="#4a6a80" opacity="0.77"/>
<rect x="550.48" y="185.95" width="1.14" height="1.40" fill="#4a6a80" opacity="0.77"/>
<rect x="542.00" y="189.45" width="14.00" height="3.00" fill="#c6c6c6" />
<rect x="545.00" y="190.25" width="1.10" height="1.40" fill="#444" opacity="0.85"/>
<rect x="546.40" y="190.25" width="1.65" height="1.40" fill="#444" opacity="0.85"/>
<rect x="548.35" y="190.25" width="1.76" height="1.40" fill="#444" opacity="0.85"/>
<rect x="551.01" y="190.25" width="0.99" height="1.40" fill="#444" opacity="0.85"/>
<rect x="546.00" y="195.15" width="1.64" height="1.40" fill="#4a6a80" opacity="0.77"/>
<rect x="547.94" y="195.15" width="1.42" height="1.40" fill="#4a6a80" opacity="0.77"/>
<rect x="549.66" y="195.15" width="0.91" height="1.40" fill="#4a6a80" opacity="0.77"/>
<rect x="506.60" y="182.85" width="1.70" height="10.50" fill="#262018" />
<rect x="506.90" y="184.92" width="1.10" height="2.00" fill="#c83a18" />
<rect x="506.90" y="189.51" width="1.10" height="1.40" fill="#3a8a3a" />
<rect x="506.00" y="194.55" width="2.80" height="1.20" fill="#50a070" />
<rect x="533.40" y="182.85" width="1.70" height="10.50" fill="#262018" />
<rect x="533.70" y="184.26" width="1.10" height="2.00" fill="#c83a18" />
<rect x="533.70" y="190.15" width="1.10" height="1.40" fill="#3a8a3a" />
<rect x="532.80" y="194.55" width="2.80" height="1.20" fill="#50a070" />
<rect x="561.10" y="182.85" width="1.70" height="9.50" fill="#262018" />
<rect x="561.40" y="185.51" width="1.10" height="2.00" fill="#c83a18" />
<rect x="561.40" y="188.79" width="1.10" height="1.40" fill="#3a8a3a" />
<rect x="560.50" y="193.55" width="2.80" height="1.20" fill="#e08080" />
<rect x="573.90" y="182.85" width="1.70" height="9.50" fill="#262018" />
<rect x="574.20" y="185.90" width="1.10" height="2.00" fill="#c83a18" />
<rect x="574.20" y="190.32" width="1.10" height="1.40" fill="#3a8a3a" />
<rect x="573.30" y="193.55" width="2.80" height="1.20" fill="#e08080" />
<path d="M471,201.40 h111" stroke="#c8c8c8" stroke-width="0.5" stroke-dasharray="0.7 0.7"/>
<rect x="474.00" y="202.70" width="1.28" height="1.40" fill="#6a5a40" opacity="0.85"/>
<rect x="476.18" y="202.70" width="1.86" height="1.40" fill="#6a5a40" opacity="0.85"/>
<rect x="478.35" y="202.70" width="1.80" height="1.40" fill="#6a5a40" opacity="0.85"/>
<rect x="480.45" y="202.70" width="1.55" height="1.40" fill="#6a5a40" opacity="0.85"/>
<rect x="474.00" y="205.20" width="1.62" height="1.40" fill="#6a5a40" opacity="0.85"/>
<rect x="475.92" y="205.20" width="1.29" height="1.40" fill="#6a5a40" opacity="0.85"/>
<rect x="477.51" y="205.20" width="1.99" height="1.40" fill="#6a5a40" opacity="0.85"/>
<rect x="480.40" y="205.20" width="1.60" height="1.40" fill="#6a5a40" opacity="0.85"/>
<path d="M476,213.40 l3,-3" stroke="#e0a0c0" stroke-width="0.7"/>
<rect x="473.00" y="217.65" width="2.01" height="1.50" fill="#333" opacity="0.85"/>
<rect x="475.91" y="217.65" width="1.32" height="1.50" fill="#333" opacity="0.85"/>
<rect x="477.53" y="217.65" width="1.62" height="1.50" fill="#333" opacity="0.85"/>
<rect x="479.45" y="217.65" width="1.67" height="1.50" fill="#333" opacity="0.85"/>
<rect x="481.42" y="217.65" width="1.58" height="1.50" fill="#333" opacity="0.85"/>
<rect x="486.60" y="202.80" width="13.40" height="3.00" fill="#c6c6c6" />
<rect x="490.60" y="203.60" width="1.56" height="1.40" fill="#444" opacity="0.85"/>
<rect x="493.06" y="203.60" width="1.97" height="1.40" fill="#444" opacity="0.85"/>
<rect x="489.60" y="207.50" width="2.09" height="1.40" fill="#4a6a80" opacity="0.77"/>
<rect x="492.59" y="207.50" width="1.75" height="1.40" fill="#4a6a80" opacity="0.77"/>
<rect x="494.64" y="207.50" width="1.39" height="1.40" fill="#4a6a80" opacity="0.77"/>
<rect x="486.60" y="211.00" width="13.40" height="3.00" fill="#c6c6c6" />
<rect x="489.60" y="211.80" width="1.59" height="1.40" fill="#444" opacity="0.85"/>
<rect x="491.49" y="211.80" width="1.21" height="1.40" fill="#444" opacity="0.85"/>
<rect x="493.01" y="211.80" width="1.59" height="1.40" fill="#444" opacity="0.85"/>
<rect x="495.50" y="211.80" width="1.10" height="1.40" fill="#444" opacity="0.85"/>
<rect x="490.60" y="216.70" width="1.58" height="1.40" fill="#4a6a80" opacity="0.77"/>
<rect x="492.48" y="216.70" width="2.08" height="1.40" fill="#4a6a80" opacity="0.77"/>
<rect x="510.80" y="202.80" width="13.40" height="3.00" fill="#c6c6c6" />
<rect x="514.80" y="203.60" width="1.04" height="1.40" fill="#444" opacity="0.85"/>
<rect x="516.74" y="203.60" width="1.45" height="1.40" fill="#444" opacity="0.85"/>
<rect x="519.09" y="203.60" width="0.71" height="1.40" fill="#444" opacity="0.85"/>
<rect x="513.80" y="207.50" width="0.95" height="1.40" fill="#4a6a80" opacity="0.77"/>
<rect x="515.05" y="207.50" width="1.65" height="1.40" fill="#4a6a80" opacity="0.77"/>
<rect x="517.00" y="207.50" width="1.03" height="1.40" fill="#4a6a80" opacity="0.77"/>
<rect x="518.33" y="207.50" width="0.97" height="1.40" fill="#4a6a80" opacity="0.77"/>
<rect x="519.60" y="207.50" width="1.20" height="1.40" fill="#4a6a80" opacity="0.77"/>
<rect x="510.80" y="211.00" width="13.40" height="3.00" fill="#c6c6c6" />
<rect x="513.80" y="211.80" width="1.36" height="1.40" fill="#444" opacity="0.85"/>
<rect x="515.46" y="211.80" width="1.47" height="1.40" fill="#444" opacity="0.85"/>
<rect x="517.23" y="211.80" width="1.12" height="1.40" fill="#444" opacity="0.85"/>
<rect x="518.65" y="211.80" width="0.96" height="1.40" fill="#444" opacity="0.85"/>
<rect x="519.91" y="211.80" width="0.89" height="1.40" fill="#444" opacity="0.85"/>
<rect x="514.80" y="216.70" width="1.01" height="1.40" fill="#4a6a80" opacity="0.77"/>
<rect x="516.11" y="216.70" width="2.15" height="1.40" fill="#4a6a80" opacity="0.77"/>
<rect x="518.55" y="216.70" width="1.17" height="1.40" fill="#4a6a80" opacity="0.77"/>
<rect x="542.00" y="202.80" width="14.00" height="3.00" fill="#c6c6c6" />
<rect x="546.00" y="203.60" width="1.73" height="1.40" fill="#444" opacity="0.85"/>
<rect x="548.03" y="203.60" width="2.18" height="1.40" fill="#444" opacity="0.85"/>
<rect x="545.00" y="207.50" width="1.83" height="1.40" fill="#4a6a80" opacity="0.77"/>
<rect x="547.13" y="207.50" width="0.94" height="1.40" fill="#4a6a80" opacity="0.77"/>
<rect x="548.36" y="207.50" width="1.85" height="1.40" fill="#4a6a80" opacity="0.77"/>
<rect x="550.52" y="207.50" width="1.48" height="1.40" fill="#4a6a80" opacity="0.77"/>
<rect x="542.00" y="211.00" width="14.00" height="3.00" fill="#c6c6c6" />
<rect x="545.00" y="211.80" width="2.16" height="1.40" fill="#444" opacity="0.85"/>
<rect x="547.46" y="211.80" width="1.96" height="1.40" fill="#444" opacity="0.85"/>
<rect x="549.72" y="211.80" width="1.03" height="1.40" fill="#444" opacity="0.85"/>
<rect x="546.00" y="216.70" width="1.18" height="1.40" fill="#4a6a80" opacity="0.77"/>
<rect x="547.48" y="216.70" width="1.32" height="1.40" fill="#4a6a80" opacity="0.77"/>
<rect x="549.70" y="216.70" width="1.30" height="1.40" fill="#4a6a80" opacity="0.77"/>
<rect x="506.60" y="204.40" width="1.70" height="10.50" fill="#262018" />
<rect x="506.90" y="207.93" width="1.10" height="2.00" fill="#c83a18" />
<rect x="506.90" y="210.76" width="1.10" height="1.40" fill="#3a8a3a" />
<rect x="506.00" y="216.10" width="2.80" height="1.20" fill="#50a070" />
<rect x="533.40" y="204.40" width="1.70" height="10.50" fill="#262018" />
<rect x="533.70" y="205.89" width="1.10" height="2.00" fill="#c83a18" />
<rect x="533.70" y="210.44" width="1.10" height="1.40" fill="#3a8a3a" />
<rect x="532.80" y="216.10" width="2.80" height="1.20" fill="#50a070" />
<rect x="561.10" y="204.40" width="1.70" height="9.50" fill="#262018" />
<rect x="561.40" y="207.70" width="1.10" height="2.00" fill="#c83a18" />
<rect x="561.40" y="210.21" width="1.10" height="1.40" fill="#3a8a3a" />
<rect x="560.50" y="215.10" width="2.80" height="1.20" fill="#e08080" />
<rect x="573.90" y="204.40" width="1.70" height="9.50" fill="#262018" />
<rect x="574.20" y="205.09" width="1.10" height="2.00" fill="#c83a18" />
<rect x="574.20" y="210.76" width="1.10" height="1.40" fill="#3a8a3a" />
<rect x="573.30" y="215.10" width="2.80" height="1.20" fill="#e08080" />
<path d="M471,222.95 h111" stroke="#c8c8c8" stroke-width="0.5" stroke-dasharray="0.7 0.7"/>
<rect x="474.00" y="224.25" width="0.80" height="1.40" fill="#6a5a40" opacity="0.85"/>
<rect x="475.10" y="224.25" width="1.51" height="1.40" fill="#6a5a40" opacity="0.85"/>
<rect x="476.91" y="224.25" width="1.99" height="1.40" fill="#6a5a40" opacity="0.85"/>
<rect x="479.20" y="224.25" width="1.16" height="1.40" fill="#6a5a40" opacity="0.85"/>
<rect x="480.66" y="224.25" width="1.08" height="1.40" fill="#6a5a40" opacity="0.85"/>
<rect x="474.00" y="226.75" width="1.10" height="1.40" fill="#6a5a40" opacity="0.85"/>
<rect x="475.40" y="226.75" width="1.48" height="1.40" fill="#6a5a40" opacity="0.85"/>
<rect x="477.18" y="226.75" width="1.01" height="1.40" fill="#6a5a40" opacity="0.85"/>
<rect x="478.49" y="226.75" width="1.74" height="1.40" fill="#6a5a40" opacity="0.85"/>
<rect x="480.53" y="226.75" width="1.16" height="1.40" fill="#6a5a40" opacity="0.85"/>
<path d="M476,234.95 l3,-3" stroke="#e0a0c0" stroke-width="0.7"/>
<rect x="473.00" y="239.20" width="1.67" height="1.50" fill="#333" opacity="0.85"/>
<rect x="474.97" y="239.20" width="0.93" height="1.50" fill="#333" opacity="0.85"/>
<rect x="476.21" y="239.20" width="1.68" height="1.50" fill="#333" opacity="0.85"/>
<rect x="478.79" y="239.20" width="1.79" height="1.50" fill="#333" opacity="0.85"/>
<rect x="481.48" y="239.20" width="1.17" height="1.50" fill="#333" opacity="0.85"/>
<rect x="486.60" y="224.35" width="13.40" height="3.00" fill="#c6c6c6" />
<rect x="490.60" y="225.15" width="0.90" height="1.40" fill="#444" opacity="0.85"/>
<rect x="492.40" y="225.15" width="1.04" height="1.40" fill="#444" opacity="0.85"/>
<rect x="493.74" y="225.15" width="1.27" height="1.40" fill="#444" opacity="0.85"/>
<rect x="489.60" y="229.05" width="1.97" height="1.40" fill="#4a6a80" opacity="0.77"/>
<rect x="491.87" y="229.05" width="0.94" height="1.40" fill="#4a6a80" opacity="0.77"/>
<rect x="493.11" y="229.05" width="1.34" height="1.40" fill="#4a6a80" opacity="0.77"/>
<rect x="495.35" y="229.05" width="1.25" height="1.40" fill="#4a6a80" opacity="0.77"/>
<rect x="486.60" y="232.55" width="13.40" height="3.00" fill="#c6c6c6" />
<rect x="489.60" y="233.35" width="1.68" height="1.40" fill="#444" opacity="0.85"/>
<rect x="492.18" y="233.35" width="1.43" height="1.40" fill="#444" opacity="0.85"/>
<rect x="493.91" y="233.35" width="1.28" height="1.40" fill="#444" opacity="0.85"/>
<rect x="495.49" y="233.35" width="1.02" height="1.40" fill="#444" opacity="0.85"/>
<rect x="490.60" y="238.25" width="0.93" height="1.40" fill="#4a6a80" opacity="0.77"/>
<rect x="491.83" y="238.25" width="2.17" height="1.40" fill="#4a6a80" opacity="0.77"/>
<rect x="494.31" y="238.25" width="1.29" height="1.40" fill="#4a6a80" opacity="0.77"/>
<rect x="510.80" y="224.35" width="13.40" height="3.00" fill="#c6c6c6" />
<rect x="514.80" y="225.15" width="1.21" height="1.40" fill="#444" opacity="0.85"/>
<rect x="516.31" y="225.15" width="1.37" height="1.40" fill="#444" opacity="0.85"/>
<rect x="517.97" y="225.15" width="1.11" height="1.40" fill="#444" opacity="0.85"/>
<rect x="513.80" y="229.05" width="1.60" height="1.40" fill="#4a6a80" opacity="0.77"/>
<rect x="515.70" y="229.05" width="1.70" height="1.40" fill="#4a6a80" opacity="0.77"/>
<rect x="518.29" y="229.05" width="1.73" height="1.40" fill="#4a6a80" opacity="0.77"/>
<rect x="510.80" y="232.55" width="13.40" height="3.00" fill="#c6c6c6" />
<rect x="513.80" y="233.35" width="1.53" height="1.40" fill="#444" opacity="0.85"/>
<rect x="516.23" y="233.35" width="1.69" height="1.40" fill="#444" opacity="0.85"/>
<rect x="518.22" y="233.35" width="1.05" height="1.40" fill="#444" opacity="0.85"/>
<rect x="520.17" y="233.35" width="0.63" height="1.40" fill="#444" opacity="0.85"/>
<rect x="514.80" y="238.25" width="1.20" height="1.40" fill="#4a6a80" opacity="0.77"/>
<rect x="516.30" y="238.25" width="1.41" height="1.40" fill="#4a6a80" opacity="0.77"/>
<rect x="518.01" y="238.25" width="1.23" height="1.40" fill="#4a6a80" opacity="0.77"/>
<rect x="542.00" y="224.35" width="14.00" height="3.00" fill="#c6c6c6" />
<rect x="546.00" y="225.15" width="1.12" height="1.40" fill="#444" opacity="0.85"/>
<rect x="547.42" y="225.15" width="0.97" height="1.40" fill="#444" opacity="0.85"/>
<rect x="549.29" y="225.15" width="0.90" height="1.40" fill="#444" opacity="0.85"/>
<rect x="550.48" y="225.15" width="0.52" height="1.40" fill="#444" opacity="0.85"/>
<rect x="545.00" y="229.05" width="0.83" height="1.40" fill="#4a6a80" opacity="0.77"/>
<rect x="546.13" y="229.05" width="1.46" height="1.40" fill="#4a6a80" opacity="0.77"/>
<rect x="547.89" y="229.05" width="0.88" height="1.40" fill="#4a6a80" opacity="0.77"/>
<rect x="549.67" y="229.05" width="2.07" height="1.40" fill="#4a6a80" opacity="0.77"/>
<rect x="542.00" y="232.55" width="14.00" height="3.00" fill="#c6c6c6" />
<rect x="545.00" y="233.35" width="1.28" height="1.40" fill="#444" opacity="0.85"/>
<rect x="546.58" y="233.35" width="1.23" height="1.40" fill="#444" opacity="0.85"/>
<rect x="548.71" y="233.35" width="1.49" height="1.40" fill="#444" opacity="0.85"/>
<rect x="550.50" y="233.35" width="1.50" height="1.40" fill="#444" opacity="0.85"/>
<rect x="546.00" y="238.25" width="1.68" height="1.40" fill="#4a6a80" opacity="0.77"/>
<rect x="547.98" y="238.25" width="1.37" height="1.40" fill="#4a6a80" opacity="0.77"/>
<rect x="549.64" y="238.25" width="0.96" height="1.40" fill="#4a6a80" opacity="0.77"/>
<rect x="506.60" y="225.95" width="1.70" height="10.50" fill="#262018" />
<rect x="506.90" y="227.26" width="1.10" height="2.00" fill="#c83a18" />
<rect x="506.90" y="231.77" width="1.10" height="1.40" fill="#3a8a3a" />
<rect x="506.00" y="237.65" width="2.80" height="1.20" fill="#50a070" />
<rect x="533.40" y="225.95" width="1.70" height="10.50" fill="#262018" />
<rect x="533.70" y="227.72" width="1.10" height="2.00" fill="#c83a18" />
<rect x="533.70" y="232.95" width="1.10" height="1.40" fill="#3a8a3a" />
<rect x="532.80" y="237.65" width="2.80" height="1.20" fill="#50a070" />
<rect x="561.10" y="225.95" width="1.70" height="9.50" fill="#262018" />
<rect x="561.40" y="228.72" width="1.10" height="2.00" fill="#c83a18" />
<rect x="561.40" y="231.73" width="1.10" height="1.40" fill="#3a8a3a" />
<rect x="560.50" y="236.65" width="2.80" height="1.20" fill="#e08080" />
<rect x="573.90" y="225.95" width="1.70" height="9.50" fill="#262018" />
<rect x="574.20" y="227.04" width="1.10" height="2.00" fill="#c83a18" />
<rect x="574.20" y="233.37" width="1.10" height="1.40" fill="#3a8a3a" />
<rect x="573.30" y="236.65" width="2.80" height="1.20" fill="#e08080" />
<g fill="#b8b8b8">
<rect x="478" y="275" width="0.7" height="0.7"/>
<rect x="480" y="275" width="0.7" height="0.7"/>
<rect x="482" y="275" width="0.7" height="0.7"/>
<rect x="484" y="275" width="0.7" height="0.7"/>
<rect x="486" y="275" width="0.7" height="0.7"/>
<rect x="488" y="275" width="0.7" height="0.7"/>
<rect x="490" y="275" width="0.7" height="0.7"/>
<rect x="492" y="275" width="0.7" height="0.7"/>
<rect x="478" y="277" width="0.7" height="0.7"/>
<rect x="480" y="277" width="0.7" height="0.7"/>
<rect x="482" y="277" width="0.7" height="0.7"/>
<rect x="484" y="277" width="0.7" height="0.7"/>
<rect x="486" y="277" width="0.7" height="0.7"/>
<rect x="488" y="277" width="0.7" height="0.7"/>
<rect x="490" y="277" width="0.7" height="0.7"/>
<rect x="492" y="277" width="0.7" height="0.7"/>
<rect x="478" y="279" width="0.7" height="0.7"/>
<rect x="480" y="279" width="0.7" height="0.7"/>
<rect x="482" y="279" width="0.7" height="0.7"/>
<rect x="484" y="279" width="0.7" height="0.7"/>
<rect x="486" y="279" width="0.7" height="0.7"/>
<rect x="488" y="279" width="0.7" height="0.7"/>
<rect x="490" y="279" width="0.7" height="0.7"/>
<rect x="492" y="279" width="0.7" height="0.7"/>
<rect x="478" y="281" width="0.7" height="0.7"/>
<rect x="480" y="281" width="0.7" height="0.7"/>
<rect x="482" y="281" width="0.7" height="0.7"/>
<rect x="484" y="281" width="0.7" height="0.7"/>
<rect x="486" y="281" width="0.7" height="0.7"/>
<rect x="488" y="281" width="0.7" height="0.7"/>
<rect x="490" y="281" width="0.7" height="0.7"/>
<rect x="492" y="281" width="0.7" height="0.7"/>
<rect x="478" y="283" width="0.7" height="0.7"/>
<rect x="480" y="283" width="0.7" height="0.7"/>
<rect x="482" y="283" width="0.7" height="0.7"/>
<rect x="484" y="283" width="0.7" height="0.7"/>
<rect x="486" y="283" width="0.7" height="0.7"/>
<rect x="488" y="283" width="0.7" height="0.7"/>
<rect x="490" y="283" width="0.7" height="0.7"/>
<rect x="492" y="283" width="0.7" height="0.7"/>
<rect x="478" y="285" width="0.7" height="0.7"/>
<rect x="480" y="285" width="0.7" height="0.7"/>
<rect x="482" y="285" width="0.7" height="0.7"/>
<rect x="484" y="285" width="0.7" height="0.7"/>
<rect x="486" y="285" width="0.7" height="0.7"/>
<rect x="488" y="285" width="0.7" height="0.7"/>
<rect x="490" y="285" width="0.7" height="0.7"/>
<rect x="492" y="285" width="0.7" height="0.7"/>
<rect x="478" y="287" width="0.7" height="0.7"/>
<rect x="480" y="287" width="0.7" height="0.7"/>
<rect x="482" y="287" width="0.7" height="0.7"/>
<rect x="484" y="287" width="0.7" height="0.7"/>
<rect x="486" y="287" width="0.7" height="0.7"/>
<rect x="488" y="287" width="0.7" height="0.7"/>
<rect x="490" y="287" width="0.7" height="0.7"/>
<rect x="492" y="287" width="0.7" height="0.7"/>
<rect x="478" y="289" width="0.7" height="0.7"/>
<rect x="480" y="289" width="0.7" height="0.7"/>
<rect x="482" y="289" width="0.7" height="0.7"/>
<rect x="484" y="289" width="0.7" height="0.7"/>
<rect x="486" y="289" width="0.7" height="0.7"/>
<rect x="488" y="289" width="0.7" height="0.7"/>
<rect x="490" y="289" width="0.7" height="0.7"/>
<rect x="492" y="289" width="0.7" height="0.7"/>
<rect x="478" y="291" width="0.7" height="0.7"/>
<rect x="480" y="291" width="0.7" height="0.7"/>
<rect x="482" y="291" width="0.7" height="0.7"/>
<rect x="484" y="291" width="0.7" height="0.7"/>
<rect x="486" y="291" width="0.7" height="0.7"/>
<rect x="488" y="291" width="0.7" height="0.7"/>
<rect x="490" y="291" width="0.7" height="0.7"/>
<rect x="492" y="291" width="0.7" height="0.7"/>
<rect x="478" y="293" width="0.7" height="0.7"/>
<rect x="480" y="293" width="0.7" height="0.7"/>
<rect x="482" y="293" width="0.7" height="0.7"/>
<rect x="484" y="293" width="0.7" height="0.7"/>
<rect x="486" y="293" width="0.7" height="0.7"/>
<rect x="488" y="293" width="0.7" height="0.7"/>
<rect x="490" y="293" width="0.7" height="0.7"/>
<rect x="492" y="293" width="0.7" height="0.7"/>
<rect x="478" y="295" width="0.7" height="0.7"/>
<rect x="480" y="295" width="0.7" height="0.7"/>
<rect x="482" y="295" width="0.7" height="0.7"/>
<rect x="484" y="295" width="0.7" height="0.7"/>
<rect x="486" y="295" width="0.7" height="0.7"/>
<rect x="488" y="295" width="0.7" height="0.7"/>
<rect x="490" y="295" width="0.7" height="0.7"/>
<rect x="492" y="295" width="0.7" height="0.7"/>
<rect x="478" y="297" width="0.7" height="0.7"/>
<rect x="480" y="297" width="0.7" height="0.7"/>
<rect x="482" y="297" width="0.7" height="0.7"/>
<rect x="484" y="297" width="0.7" height="0.7"/>
<rect x="486" y="297" width="0.7" height="0.7"/>
<rect x="488" y="297" width="0.7" height="0.7"/>
<rect x="490" y="297" width="0.7" height="0.7"/>
<rect x="492" y="297" width="0.7" height="0.7"/>
<rect x="478" y="299" width="0.7" height="0.7"/>
<rect x="480" y="299" width="0.7" height="0.7"/>
<rect x="482" y="299" width="0.7" height="0.7"/>
<rect x="484" y="299" width="0.7" height="0.7"/>
<rect x="486" y="299" width="0.7" height="0.7"/>
<rect x="488" y="299" width="0.7" height="0.7"/>
<rect x="490" y="299" width="0.7" height="0.7"/>
<rect x="492" y="299" width="0.7" height="0.7"/>
<rect x="478" y="301" width="0.7" height="0.7"/>
<rect x="480" y="301" width="0.7" height="0.7"/>
<rect x="482" y="301" width="0.7" height="0.7"/>
<rect x="484" y="301" width="0.7" height="0.7"/>
<rect x="486" y="301" width="0.7" height="0.7"/>
<rect x="488" y="301" width="0.7" height="0.7"/>
<rect x="490" y="301" width="0.7" height="0.7"/>
<rect x="492" y="301" width="0.7" height="0.7"/>
<rect x="504" y="264" width="0.7" height="0.7"/>
<rect x="506" y="264" width="0.7" height="0.7"/>
<rect x="508" y="264" width="0.7" height="0.7"/>
<rect x="510" y="264" width="0.7" height="0.7"/>
<rect x="512" y="264" width="0.7" height="0.7"/>
<rect x="514" y="264" width="0.7" height="0.7"/>
<rect x="516" y="264" width="0.7" height="0.7"/>
<rect x="518" y="264" width="0.7" height="0.7"/>
<rect x="520" y="264" width="0.7" height="0.7"/>
<rect x="522" y="264" width="0.7" height="0.7"/>
<rect x="504" y="266" width="0.7" height="0.7"/>
<rect x="506" y="266" width="0.7" height="0.7"/>
<rect x="508" y="266" width="0.7" height="0.7"/>
<rect x="510" y="266" width="0.7" height="0.7"/>
<rect x="512" y="266" width="0.7" height="0.7"/>
<rect x="514" y="266" width="0.7" height="0.7"/>
<rect x="516" y="266" width="0.7" height="0.7"/>
<rect x="518" y="266" width="0.7" height="0.7"/>
<rect x="520" y="266" width="0.7" height="0.7"/>
<rect x="522" y="266" width="0.7" height="0.7"/>
<rect x="504" y="268" width="0.7" height="0.7"/>
<rect x="506" y="268" width="0.7" height="0.7"/>
<rect x="508" y="268" width="0.7" height="0.7"/>
<rect x="510" y="268" width="0.7" height="0.7"/>
<rect x="512" y="268" width="0.7" height="0.7"/>
<rect x="514" y="268" width="0.7" height="0.7"/>
<rect x="516" y="268" width="0.7" height="0.7"/>
<rect x="518" y="268" width="0.7" height="0.7"/>
<rect x="520" y="268" width="0.7" height="0.7"/>
<rect x="522" y="268" width="0.7" height="0.7"/>
</g>
<rect x="472.00" y="263.80" width="8.00" height="0.90" fill="#7080c0" />
<polygon points="478.2,267.5 486.0,265.1 497.6,265.7 504.9,267.5 512.2,270.0 519.5,271.2 520.1,274.2 514.6,278.5 511.0,282.1 508.5,288.8 509.1,292.5 506.1,297.9 503.7,297.9 502.5,301.0 495.2,301.6 490.3,305.2 487.3,301.0 484.2,297.9 486.7,293.7 492.7,293.1 492.1,286.4 489.1,283.3 486.7,281.5 487.3,275.4 486.0,274.2 480.6,274.2 478.8,271.8" fill="#ff0000" />
<polygon points="512.2,270.0 519.5,271.2 520.1,274.2 514.6,278.5 511.2,281.8 511.4,276.0 511.8,271.0" fill="#ffff00" />
<polygon points="484.2,297.9 486.7,293.7 492.7,293.1 501.2,292.6 502.5,297.3 503.7,297.9 502.5,301.0 495.2,301.6 490.3,305.2 487.3,301.0" fill="#ffff00" />
<path d="M486,265.5 L486.5,270 M497,268 L502,272 L504,276 M503,276 L505,283 L503,289 M506,271 L508,279 M493,276 L500,277 M499,286 L505,287" stroke="#ffd0d0" stroke-width="0.5" fill="none"/>
<polygon points="495.5,284.5 497.5,280.5 499.2,284.8" fill="#48d890" />
<polygon points="500.5,271.0 503.0,270.5 503.5,273.0 501.0,273.5" fill="#ffffff" />
<polygon points="516.5,286.8 518.5,285.5 519.5,287.2 517.5,288.3" fill="#ff0000" />
<polygon points="521.5,284.8 523.5,283.5 523.2,285.5" fill="#ff2020" />
<rect x="513.60" y="290.00" width="1.20" height="1.00" fill="#ff4040" />
<rect x="472.50" y="307.70" width="1.22" height="1.20" fill="#f0a080" opacity="0.85"/>
<rect x="474.02" y="307.70" width="1.49" height="1.20" fill="#f0a080" opacity="0.85"/>
<rect x="475.82" y="307.70" width="1.75" height="1.20" fill="#f0a080" opacity="0.85"/>
<rect x="477.86" y="307.70" width="1.39" height="1.20" fill="#f0a080" opacity="0.85"/>
<rect x="536.20" y="263.25" width="1.58" height="1.30" fill="#444" opacity="0.85"/>
<rect x="538.68" y="263.25" width="1.41" height="1.30" fill="#444" opacity="0.85"/>
<rect x="562.3" y="262.40" width="24.5" height="3" fill="#f4f8fc" stroke="#c0c8d8" stroke-width="0.3" stroke-dasharray="0.5 0.5"/>
<rect x="563.00" y="263.35" width="1.64" height="1.10" fill="#5a6a9a" opacity="0.68"/>
<rect x="564.94" y="263.35" width="1.06" height="1.10" fill="#5a6a9a" opacity="0.68"/>
<rect x="586.00" y="262.90" width="1.00" height="2.00" fill="#4060a0" />
<rect x="536.20" y="267.15" width="1.83" height="1.30" fill="#444" opacity="0.85"/>
<rect x="538.33" y="267.15" width="1.90" height="1.30" fill="#444" opacity="0.85"/>
<rect x="540.53" y="267.15" width="1.09" height="1.30" fill="#444" opacity="0.85"/>
<rect x="541.92" y="267.15" width="1.28" height="1.30" fill="#444" opacity="0.85"/>
<rect x="562.3" y="266.30" width="24.5" height="3" fill="#f4f8fc" stroke="#c0c8d8" stroke-width="0.3" stroke-dasharray="0.5 0.5"/>
<rect x="563.00" y="267.25" width="2.14" height="1.10" fill="#5a6a9a" opacity="0.68"/>
<rect x="566.04" y="267.25" width="1.85" height="1.10" fill="#5a6a9a" opacity="0.68"/>
<rect x="586.00" y="266.80" width="1.00" height="2.00" fill="#4060a0" />
<rect x="536.20" y="270.95" width="1.64" height="1.30" fill="#444" opacity="0.85"/>
<rect x="538.14" y="270.95" width="2.20" height="1.30" fill="#444" opacity="0.85"/>
<rect x="540.64" y="270.95" width="1.66" height="1.30" fill="#444" opacity="0.85"/>
<rect x="542.59" y="270.95" width="1.34" height="1.30" fill="#444" opacity="0.85"/>
<rect x="544.23" y="270.95" width="0.94" height="1.30" fill="#444" opacity="0.85"/>
<rect x="545.47" y="270.95" width="2.08" height="1.30" fill="#444" opacity="0.85"/>
<rect x="548.45" y="270.95" width="1.16" height="1.30" fill="#444" opacity="0.85"/>
<rect x="550.51" y="270.95" width="1.59" height="1.30" fill="#444" opacity="0.85"/>
<rect x="552.40" y="270.95" width="1.33" height="1.30" fill="#444" opacity="0.85"/>
<rect x="554.02" y="270.95" width="1.31" height="1.30" fill="#444" opacity="0.85"/>
<rect x="562.3" y="270.10" width="24.5" height="3" fill="#f4f8fc" stroke="#c0c8d8" stroke-width="0.3" stroke-dasharray="0.5 0.5"/>
<rect x="563.00" y="271.05" width="1.31" height="1.10" fill="#5a6a9a" opacity="0.68"/>
<rect x="565.21" y="271.05" width="1.18" height="1.10" fill="#5a6a9a" opacity="0.68"/>
<rect x="566.69" y="271.05" width="0.99" height="1.10" fill="#5a6a9a" opacity="0.68"/>
<rect x="567.98" y="271.05" width="1.87" height="1.10" fill="#5a6a9a" opacity="0.68"/>
<rect x="586.00" y="270.60" width="1.00" height="2.00" fill="#4060a0" />
<rect x="536.4" y="277.5" width="52.6" height="33" fill="#fff" stroke="#f08a8a" stroke-width="0.8" stroke-dasharray="0.8 0.6"/>
<rect x="551.00" y="279.75" width="1.70" height="1.30" fill="#333" opacity="0.85"/>
<rect x="553.00" y="279.75" width="1.65" height="1.30" fill="#333" opacity="0.85"/>
<rect x="555.55" y="279.75" width="1.47" height="1.30" fill="#333" opacity="0.85"/>
<rect x="557.91" y="279.75" width="1.50" height="1.30" fill="#333" opacity="0.85"/>
<rect x="560.32" y="279.75" width="1.66" height="1.30" fill="#333" opacity="0.85"/>
<rect x="562.88" y="279.75" width="1.35" height="1.30" fill="#333" opacity="0.85"/>
<rect x="564.53" y="279.75" width="2.08" height="1.30" fill="#333" opacity="0.85"/>
<rect x="566.91" y="279.75" width="1.59" height="1.30" fill="#333" opacity="0.85"/>
<rect x="568.80" y="279.75" width="1.20" height="1.30" fill="#333" opacity="0.85"/>
<rect x="538" y="283" width="50" height="27" fill="none" stroke="#aaa" stroke-width="0.4"/>
<rect x="538.00" y="283.00" width="50.00" height="3.60" fill="#eeeeee" />
<rect x="544.00" y="284.15" width="1.35" height="1.30" fill="#333" opacity="0.85"/>
<rect x="545.65" y="284.15" width="0.97" height="1.30" fill="#333" opacity="0.85"/>
<rect x="546.93" y="284.15" width="2.13" height="1.30" fill="#333" opacity="0.85"/>
<rect x="549.35" y="284.15" width="1.57" height="1.30" fill="#333" opacity="0.85"/>
<rect x="551.22" y="284.15" width="2.07" height="1.30" fill="#333" opacity="0.85"/>
<rect x="564.00" y="284.20" width="2.19" height="1.20" fill="#555" opacity="0.85"/>
<rect x="566.49" y="284.20" width="1.10" height="1.20" fill="#555" opacity="0.85"/>
<rect x="568.49" y="284.20" width="0.51" height="1.20" fill="#555" opacity="0.85"/>
<rect x="578.00" y="284.20" width="1.52" height="1.20" fill="#555" opacity="0.85"/>
<rect x="579.82" y="284.20" width="1.16" height="1.20" fill="#555" opacity="0.85"/>
<path d="M561.8,283 v27 M574.7,283 v27" stroke="#999" stroke-width="0.4"/>
<rect x="538.60" y="289.85" width="1.63" height="1.30" fill="#3040c0" opacity="0.85"/>
<rect x="540.53" y="289.85" width="1.24" height="1.30" fill="#3040c0" opacity="0.85"/>
<rect x="542.67" y="289.85" width="1.10" height="1.30" fill="#3040c0" opacity="0.85"/>
<rect x="544.07" y="289.85" width="1.19" height="1.30" fill="#3040c0" opacity="0.85"/>
<rect x="545.57" y="289.85" width="1.09" height="1.30" fill="#3040c0" opacity="0.85"/>
<rect x="547.55" y="289.85" width="1.14" height="1.30" fill="#3040c0" opacity="0.85"/>
<rect x="549.00" y="289.85" width="2.02" height="1.30" fill="#3040c0" opacity="0.85"/>
<rect x="551.32" y="289.85" width="1.12" height="1.30" fill="#3040c0" opacity="0.85"/>
<rect x="552.74" y="289.85" width="1.27" height="1.30" fill="#3040c0" opacity="0.85"/>
<rect x="554.30" y="289.85" width="1.88" height="1.30" fill="#3040c0" opacity="0.85"/>
<path d="M538,292.10 h50" stroke="#aaa" stroke-width="0.3"/>
<rect x="562.50" y="289.45" width="1.58" height="1.10" fill="#666" opacity="0.68"/>
<rect x="564.98" y="289.45" width="0.80" height="1.10" fill="#666" opacity="0.68"/>
<rect x="566.09" y="289.45" width="1.94" height="1.10" fill="#666" opacity="0.68"/>
<rect x="568.33" y="289.45" width="2.11" height="1.10" fill="#666" opacity="0.68"/>
<rect x="570.74" y="289.45" width="1.76" height="1.10" fill="#666" opacity="0.68"/>
<rect x="576.00" y="289.45" width="1.91" height="1.10" fill="#666" opacity="0.68"/>
<rect x="578.21" y="289.45" width="1.09" height="1.10" fill="#666" opacity="0.68"/>
<rect x="579.59" y="289.45" width="1.28" height="1.10" fill="#666" opacity="0.68"/>
<rect x="581.18" y="289.45" width="2.07" height="1.10" fill="#666" opacity="0.68"/>
<rect x="583.54" y="289.45" width="1.44" height="1.10" fill="#666" opacity="0.68"/>
<rect x="538.60" y="294.35" width="0.88" height="1.30" fill="#3040c0" opacity="0.85"/>
<rect x="540.38" y="294.35" width="1.17" height="1.30" fill="#3040c0" opacity="0.85"/>
<rect x="541.85" y="294.35" width="1.96" height="1.30" fill="#3040c0" opacity="0.85"/>
<rect x="544.11" y="294.35" width="1.43" height="1.30" fill="#3040c0" opacity="0.85"/>
<rect x="545.84" y="294.35" width="1.24" height="1.30" fill="#3040c0" opacity="0.85"/>
<path d="M538,296.60 h50" stroke="#aaa" stroke-width="0.3"/>
<rect x="562.50" y="293.95" width="0.95" height="1.10" fill="#666" opacity="0.68"/>
<rect x="564.35" y="293.95" width="1.80" height="1.10" fill="#666" opacity="0.68"/>
<rect x="566.45" y="293.95" width="1.15" height="1.10" fill="#666" opacity="0.68"/>
<rect x="567.90" y="293.95" width="1.65" height="1.10" fill="#666" opacity="0.68"/>
<rect x="569.85" y="293.95" width="0.83" height="1.10" fill="#666" opacity="0.68"/>
<rect x="570.99" y="293.95" width="1.28" height="1.10" fill="#666" opacity="0.68"/>
<rect x="576.00" y="293.95" width="1.11" height="1.10" fill="#666" opacity="0.68"/>
<rect x="577.41" y="293.95" width="0.96" height="1.10" fill="#666" opacity="0.68"/>
<rect x="578.67" y="293.95" width="1.65" height="1.10" fill="#666" opacity="0.68"/>
<rect x="580.62" y="293.95" width="1.37" height="1.10" fill="#666" opacity="0.68"/>
<rect x="582.29" y="293.95" width="1.58" height="1.10" fill="#666" opacity="0.68"/>
<rect x="584.17" y="293.95" width="0.83" height="1.10" fill="#666" opacity="0.68"/>
<rect x="538.60" y="298.35" width="2.20" height="1.30" fill="#3040c0" opacity="0.85"/>
<rect x="541.10" y="298.35" width="1.48" height="1.30" fill="#3040c0" opacity="0.85"/>
<rect x="542.87" y="298.35" width="1.90" height="1.30" fill="#3040c0" opacity="0.85"/>
<rect x="545.07" y="298.35" width="1.99" height="1.30" fill="#3040c0" opacity="0.85"/>
<path d="M538,300.60 h50" stroke="#aaa" stroke-width="0.3"/>
<rect x="562.50" y="297.95" width="1.19" height="1.10" fill="#666" opacity="0.68"/>
<rect x="563.99" y="297.95" width="1.98" height="1.10" fill="#666" opacity="0.68"/>
<rect x="566.87" y="297.95" width="1.46" height="1.10" fill="#666" opacity="0.68"/>
<rect x="568.64" y="297.95" width="1.82" height="1.10" fill="#666" opacity="0.68"/>
<rect x="570.76" y="297.95" width="1.47" height="1.10" fill="#666" opacity="0.68"/>
<rect x="576.00" y="297.95" width="1.55" height="1.10" fill="#666" opacity="0.68"/>
<rect x="577.85" y="297.95" width="1.46" height="1.10" fill="#666" opacity="0.68"/>
<rect x="579.61" y="297.95" width="1.06" height="1.10" fill="#666" opacity="0.68"/>
<rect x="580.97" y="297.95" width="1.72" height="1.10" fill="#666" opacity="0.68"/>
<rect x="583.00" y="297.95" width="1.05" height="1.10" fill="#666" opacity="0.68"/>
<rect x="584.34" y="297.95" width="0.66" height="1.10" fill="#666" opacity="0.68"/>
<rect x="538.60" y="302.15" width="1.56" height="1.30" fill="#3040c0" opacity="0.85"/>
<rect x="540.46" y="302.15" width="1.98" height="1.30" fill="#3040c0" opacity="0.85"/>
<rect x="542.74" y="302.15" width="2.17" height="1.30" fill="#3040c0" opacity="0.85"/>
<rect x="545.21" y="302.15" width="1.39" height="1.30" fill="#3040c0" opacity="0.85"/>
<path d="M538,304.40 h50" stroke="#aaa" stroke-width="0.3"/>
<rect x="562.50" y="301.75" width="0.95" height="1.10" fill="#666" opacity="0.68"/>
<rect x="564.35" y="301.75" width="1.29" height="1.10" fill="#666" opacity="0.68"/>
<rect x="566.54" y="301.75" width="1.91" height="1.10" fill="#666" opacity="0.68"/>
<rect x="569.35" y="301.75" width="1.75" height="1.10" fill="#666" opacity="0.68"/>
<rect x="571.40" y="301.75" width="0.95" height="1.10" fill="#666" opacity="0.68"/>
<rect x="576.00" y="301.75" width="1.73" height="1.10" fill="#666" opacity="0.68"/>
<rect x="578.03" y="301.75" width="1.96" height="1.10" fill="#666" opacity="0.68"/>
<rect x="580.29" y="301.75" width="0.92" height="1.10" fill="#666" opacity="0.68"/>
<rect x="581.51" y="301.75" width="0.84" height="1.10" fill="#666" opacity="0.68"/>
<rect x="582.65" y="301.75" width="0.87" height="1.10" fill="#666" opacity="0.68"/>
<rect x="584.42" y="301.75" width="0.58" height="1.10" fill="#666" opacity="0.68"/>
<rect x="538.60" y="306.35" width="1.26" height="1.30" fill="#3040c0" opacity="0.85"/>
<rect x="540.76" y="306.35" width="1.84" height="1.30" fill="#3040c0" opacity="0.85"/>
<rect x="542.90" y="306.35" width="1.87" height="1.30" fill="#3040c0" opacity="0.85"/>
<rect x="545.07" y="306.35" width="2.00" height="1.30" fill="#3040c0" opacity="0.85"/>
<rect x="547.37" y="306.35" width="1.10" height="1.30" fill="#3040c0" opacity="0.85"/>
<rect x="549.38" y="306.35" width="0.98" height="1.30" fill="#3040c0" opacity="0.85"/>
<rect x="550.66" y="306.35" width="1.42" height="1.30" fill="#3040c0" opacity="0.85"/>
<rect x="552.98" y="306.35" width="1.74" height="1.30" fill="#3040c0" opacity="0.85"/>
<rect x="555.02" y="306.35" width="0.58" height="1.30" fill="#3040c0" opacity="0.85"/>
<path d="M538,308.60 h50" stroke="#aaa" stroke-width="0.3"/>
<rect x="562.50" y="305.95" width="2.00" height="1.10" fill="#666" opacity="0.68"/>
<rect x="564.80" y="305.95" width="0.91" height="1.10" fill="#666" opacity="0.68"/>
<rect x="566.01" y="305.95" width="1.56" height="1.10" fill="#666" opacity="0.68"/>
<rect x="567.88" y="305.95" width="1.41" height="1.10" fill="#666" opacity="0.68"/>
<rect x="570.19" y="305.95" width="1.14" height="1.10" fill="#666" opacity="0.68"/>
<rect x="571.63" y="305.95" width="0.87" height="1.10" fill="#666" opacity="0.68"/>
<rect x="576.00" y="305.95" width="1.87" height="1.10" fill="#666" opacity="0.68"/>
<rect x="578.17" y="305.95" width="1.21" height="1.10" fill="#666" opacity="0.68"/>
<rect x="579.69" y="305.95" width="1.06" height="1.10" fill="#666" opacity="0.68"/>
<rect x="581.64" y="305.95" width="1.82" height="1.10" fill="#666" opacity="0.68"/>
<rect x="584.37" y="305.95" width="0.63" height="1.10" fill="#666" opacity="0.68"/>
<rect x="587.20" y="284.00" width="0.90" height="25.00" fill="#c0c8f0" />
<path d="M466,314.1 H588" stroke="#f8b090" stroke-width="0.8" stroke-dasharray="0.8 0.8"/>
<path d="M506.6,314 V348 M547.6,314 V348" stroke="#f8b090" stroke-width="0.8" stroke-dasharray="0.8 0.8"/>
<rect x="481.00" y="316.25" width="1.95" height="1.30" fill="#444" opacity="0.85"/>
<rect x="483.25" y="316.25" width="1.68" height="1.30" fill="#444" opacity="0.85"/>
<rect x="485.23" y="316.25" width="1.64" height="1.30" fill="#444" opacity="0.85"/>
<rect x="487.17" y="316.25" width="1.42" height="1.30" fill="#444" opacity="0.85"/>
<rect x="476.00" y="320.00" width="1.71" height="1.20" fill="#7090b0" opacity="0.68"/>
<rect x="478.61" y="320.00" width="1.54" height="1.20" fill="#7090b0" opacity="0.68"/>
<rect x="480.45" y="320.00" width="1.66" height="1.20" fill="#7090b0" opacity="0.68"/>
<rect x="483.02" y="320.00" width="1.55" height="1.20" fill="#7090b0" opacity="0.68"/>
<rect x="485.46" y="320.00" width="1.89" height="1.20" fill="#7090b0" opacity="0.68"/>
<rect x="487.65" y="320.00" width="1.99" height="1.20" fill="#7090b0" opacity="0.68"/>
<rect x="489.94" y="320.00" width="0.92" height="1.20" fill="#7090b0" opacity="0.68"/>
<rect x="491.16" y="320.00" width="1.94" height="1.20" fill="#7090b0" opacity="0.68"/>
<rect x="494.00" y="320.00" width="1.35" height="1.20" fill="#7090b0" opacity="0.68"/>
<g fill="#bbb">
<rect x="467.5" y="322.5" width="0.6" height="0.6"/>
<rect x="467.5" y="326" width="0.6" height="0.6"/>
<rect x="467.5" y="329.5" width="0.6" height="0.6"/>
<rect x="467.5" y="333" width="0.6" height="0.6"/>
<rect x="467.5" y="336.5" width="0.6" height="0.6"/>
<rect x="467.5" y="340" width="0.6" height="0.6"/>
<rect x="467.5" y="343.5" width="0.6" height="0.6"/>
</g>
<rect x="473.50" y="326.20" width="1.60" height="1.60" fill="#b8b800" />
<rect x="476.50" y="326.45" width="1.08" height="1.10" fill="#666" opacity="0.85"/>
<rect x="477.88" y="326.45" width="1.80" height="1.10" fill="#666" opacity="0.85"/>
<rect x="479.98" y="326.45" width="0.80" height="1.10" fill="#666" opacity="0.85"/>
<rect x="481.08" y="326.45" width="2.11" height="1.10" fill="#666" opacity="0.85"/>
<rect x="469.00" y="330.50" width="1.44" height="1.00" fill="#777" opacity="0.85"/>
<rect x="470.74" y="330.50" width="1.21" height="1.00" fill="#777" opacity="0.85"/>
<rect x="472.24" y="330.50" width="1.76" height="1.00" fill="#777" opacity="0.85"/>
<rect x="469.00" y="334.50" width="0.80" height="1.00" fill="#777" opacity="0.85"/>
<rect x="470.70" y="334.50" width="1.22" height="1.00" fill="#777" opacity="0.85"/>
<rect x="472.22" y="334.50" width="1.78" height="1.00" fill="#777" opacity="0.85"/>
<rect x="469.00" y="338.50" width="1.90" height="1.00" fill="#777" opacity="0.85"/>
<rect x="471.20" y="338.50" width="1.68" height="1.00" fill="#777" opacity="0.85"/>
<rect x="478.90" y="338.60" width="4.30" height="4.00" fill="#d4d400" />
<rect x="485.50" y="341.70" width="4.00" height="0.80" fill="#d4d400" />
<rect x="492.00" y="341.70" width="4.00" height="0.80" fill="#d4d400" />
<rect x="498.00" y="331.30" width="4.60" height="11.30" fill="#d4d400" />
<path d="M478,345.5 l1.5,-1.5 M484.5,345.5 l1.5,-1.5 M491,345.5 l1.5,-1.5 M498,345.5 l1.5,-1.5" stroke="#888" stroke-width="0.4"/>
<rect x="521.00" y="316.25" width="1.23" height="1.30" fill="#444" opacity="0.85"/>
<rect x="523.13" y="316.25" width="1.28" height="1.30" fill="#444" opacity="0.85"/>
<rect x="524.72" y="316.25" width="1.08" height="1.30" fill="#444" opacity="0.85"/>
<rect x="526.10" y="316.25" width="0.90" height="1.30" fill="#444" opacity="0.85"/>
<rect x="514.00" y="320.20" width="1.29" height="1.20" fill="#7090b0" opacity="0.68"/>
<rect x="515.59" y="320.20" width="1.05" height="1.20" fill="#7090b0" opacity="0.68"/>
<rect x="517.54" y="320.20" width="1.02" height="1.20" fill="#7090b0" opacity="0.68"/>
<rect x="518.86" y="320.20" width="1.04" height="1.20" fill="#7090b0" opacity="0.68"/>
<rect x="520.20" y="320.20" width="1.61" height="1.20" fill="#7090b0" opacity="0.68"/>
<rect x="522.11" y="320.20" width="1.47" height="1.20" fill="#7090b0" opacity="0.68"/>
<rect x="523.88" y="320.20" width="0.82" height="1.20" fill="#7090b0" opacity="0.68"/>
<rect x="524.99" y="320.20" width="1.75" height="1.20" fill="#7090b0" opacity="0.68"/>
<rect x="527.04" y="320.20" width="1.00" height="1.20" fill="#7090b0" opacity="0.68"/>
<rect x="528.34" y="320.20" width="1.58" height="1.20" fill="#7090b0" opacity="0.68"/>
<rect x="530.23" y="320.20" width="2.01" height="1.20" fill="#7090b0" opacity="0.68"/>
<rect x="532.53" y="320.20" width="1.61" height="1.20" fill="#7090b0" opacity="0.68"/>
<rect x="534.44" y="320.20" width="1.44" height="1.20" fill="#7090b0" opacity="0.68"/>
<rect x="536.78" y="320.20" width="0.88" height="1.20" fill="#7090b0" opacity="0.68"/>
<rect x="508" y="323" width="38.5" height="24.5" fill="#fff" stroke="#999" stroke-width="0.4"/>
<path d="M508,328.2 h38.5 M532,323 v24.5" stroke="#999" stroke-width="0.4"/>
<rect x="515.00" y="325.00" width="1.98" height="1.20" fill="#444" opacity="0.85"/>
<rect x="517.28" y="325.00" width="2.17" height="1.20" fill="#444" opacity="0.85"/>
<rect x="519.74" y="325.00" width="1.39" height="1.20" fill="#444" opacity="0.85"/>
<rect x="521.43" y="325.00" width="0.97" height="1.20" fill="#444" opacity="0.85"/>
<rect x="522.70" y="325.00" width="2.15" height="1.20" fill="#444" opacity="0.85"/>
<rect x="534.00" y="325.00" width="1.37" height="1.20" fill="#444" opacity="0.85"/>
<rect x="535.67" y="325.00" width="1.35" height="1.20" fill="#444" opacity="0.85"/>
<rect x="537.92" y="325.00" width="1.86" height="1.20" fill="#444" opacity="0.85"/>
<rect x="508.60" y="330.90" width="1.98" height="1.20" fill="#3040c0" opacity="0.85"/>
<rect x="510.88" y="330.90" width="2.13" height="1.20" fill="#3040c0" opacity="0.85"/>
<rect x="513.31" y="330.90" width="1.06" height="1.20" fill="#3040c0" opacity="0.85"/>
<rect x="514.67" y="330.90" width="2.03" height="1.20" fill="#3040c0" opacity="0.85"/>
<rect x="517.00" y="330.90" width="2.10" height="1.20" fill="#3040c0" opacity="0.85"/>
<rect x="519.40" y="330.90" width="2.16" height="1.20" fill="#3040c0" opacity="0.85"/>
<rect x="521.85" y="330.90" width="1.85" height="1.20" fill="#3040c0" opacity="0.85"/>
<rect x="524.60" y="330.90" width="1.00" height="1.20" fill="#3040c0" opacity="0.85"/>
<rect x="533.00" y="330.95" width="1.20" height="1.10" fill="#777" opacity="0.59"/>
<rect x="534.50" y="330.95" width="1.12" height="1.10" fill="#777" opacity="0.59"/>
<rect x="535.92" y="330.95" width="1.14" height="1.10" fill="#777" opacity="0.59"/>
<rect x="537.37" y="330.95" width="1.48" height="1.10" fill="#777" opacity="0.59"/>
<rect x="539.15" y="330.95" width="0.99" height="1.10" fill="#777" opacity="0.59"/>
<rect x="541.04" y="330.95" width="2.17" height="1.10" fill="#777" opacity="0.59"/>
<path d="M508,333.50 h38.5" stroke="#ccc" stroke-width="0.3"/>
<rect x="508.60" y="334.90" width="2.04" height="1.20" fill="#3040c0" opacity="0.85"/>
<rect x="510.94" y="334.90" width="1.85" height="1.20" fill="#3040c0" opacity="0.85"/>
<rect x="513.69" y="334.90" width="1.97" height="1.20" fill="#3040c0" opacity="0.85"/>
<rect x="516.56" y="334.90" width="1.86" height="1.20" fill="#3040c0" opacity="0.85"/>
<rect x="519.32" y="334.90" width="0.93" height="1.20" fill="#3040c0" opacity="0.85"/>
<rect x="521.15" y="334.90" width="1.71" height="1.20" fill="#3040c0" opacity="0.85"/>
<rect x="523.16" y="334.90" width="2.02" height="1.20" fill="#3040c0" opacity="0.85"/>
<rect x="533.00" y="334.95" width="1.96" height="1.10" fill="#777" opacity="0.59"/>
<rect x="535.26" y="334.95" width="1.16" height="1.10" fill="#777" opacity="0.59"/>
<rect x="537.32" y="334.95" width="1.70" height="1.10" fill="#777" opacity="0.59"/>
<rect x="539.92" y="334.95" width="1.02" height="1.10" fill="#777" opacity="0.59"/>
<rect x="541.24" y="334.95" width="1.52" height="1.10" fill="#777" opacity="0.59"/>
<rect x="543.06" y="334.95" width="0.94" height="1.10" fill="#777" opacity="0.59"/>
<path d="M508,337.50 h38.5" stroke="#ccc" stroke-width="0.3"/>
<rect x="508.60" y="338.90" width="2.04" height="1.20" fill="#3040c0" opacity="0.85"/>
<rect x="510.94" y="338.90" width="1.82" height="1.20" fill="#3040c0" opacity="0.85"/>
<rect x="513.06" y="338.90" width="1.82" height="1.20" fill="#3040c0" opacity="0.85"/>
<rect x="515.78" y="338.90" width="1.71" height="1.20" fill="#3040c0" opacity="0.85"/>
<rect x="517.79" y="338.90" width="1.71" height="1.20" fill="#3040c0" opacity="0.85"/>
<rect x="519.81" y="338.90" width="1.53" height="1.20" fill="#3040c0" opacity="0.85"/>
<rect x="521.64" y="338.90" width="2.02" height="1.20" fill="#3040c0" opacity="0.85"/>
<rect x="523.96" y="338.90" width="1.43" height="1.20" fill="#3040c0" opacity="0.85"/>
<rect x="533.00" y="338.95" width="2.18" height="1.10" fill="#777" opacity="0.59"/>
<rect x="535.48" y="338.95" width="1.52" height="1.10" fill="#777" opacity="0.59"/>
<rect x="537.29" y="338.95" width="1.72" height="1.10" fill="#777" opacity="0.59"/>
<rect x="539.91" y="338.95" width="1.99" height="1.10" fill="#777" opacity="0.59"/>
<rect x="542.21" y="338.95" width="1.79" height="1.10" fill="#777" opacity="0.59"/>
<path d="M508,341.50 h38.5" stroke="#ccc" stroke-width="0.3"/>
<rect x="508.60" y="342.60" width="1.24" height="1.20" fill="#3040c0" opacity="0.85"/>
<rect x="510.14" y="342.60" width="0.98" height="1.20" fill="#3040c0" opacity="0.85"/>
<rect x="511.41" y="342.60" width="1.16" height="1.20" fill="#3040c0" opacity="0.85"/>
<rect x="512.87" y="342.60" width="1.93" height="1.20" fill="#3040c0" opacity="0.85"/>
<rect x="515.70" y="342.60" width="1.88" height="1.20" fill="#3040c0" opacity="0.85"/>
<rect x="518.48" y="342.60" width="1.17" height="1.20" fill="#3040c0" opacity="0.85"/>
<rect x="519.94" y="342.60" width="1.03" height="1.20" fill="#3040c0" opacity="0.85"/>
<rect x="521.87" y="342.60" width="0.92" height="1.20" fill="#3040c0" opacity="0.85"/>
<rect x="523.08" y="342.60" width="0.82" height="1.20" fill="#3040c0" opacity="0.85"/>
<rect x="524.80" y="342.60" width="0.80" height="1.20" fill="#3040c0" opacity="0.85"/>
<rect x="533.00" y="342.65" width="1.41" height="1.10" fill="#777" opacity="0.59"/>
<rect x="534.71" y="342.65" width="1.67" height="1.10" fill="#777" opacity="0.59"/>
<rect x="536.68" y="342.65" width="1.38" height="1.10" fill="#777" opacity="0.59"/>
<rect x="538.36" y="342.65" width="1.30" height="1.10" fill="#777" opacity="0.59"/>
<rect x="540.55" y="342.65" width="2.00" height="1.10" fill="#777" opacity="0.59"/>
<rect x="543.45" y="342.65" width="0.55" height="1.10" fill="#777" opacity="0.59"/>
<path d="M508,345.20 h38.5" stroke="#ccc" stroke-width="0.3"/>
<rect x="545.20" y="324.00" width="0.90" height="20.00" fill="#c0c8f0" />
<rect x="562.00" y="316.25" width="1.75" height="1.30" fill="#444" opacity="0.85"/>
<rect x="564.65" y="316.25" width="1.88" height="1.30" fill="#444" opacity="0.85"/>
<rect x="566.83" y="316.25" width="1.17" height="1.30" fill="#444" opacity="0.85"/>
<rect x="556.00" y="320.20" width="2.00" height="1.20" fill="#7090b0" opacity="0.68"/>
<rect x="558.30" y="320.20" width="1.19" height="1.20" fill="#7090b0" opacity="0.68"/>
<rect x="559.79" y="320.20" width="1.61" height="1.20" fill="#7090b0" opacity="0.68"/>
<rect x="561.70" y="320.20" width="2.01" height="1.20" fill="#7090b0" opacity="0.68"/>
<rect x="564.01" y="320.20" width="2.19" height="1.20" fill="#7090b0" opacity="0.68"/>
<rect x="566.50" y="320.20" width="1.01" height="1.20" fill="#7090b0" opacity="0.68"/>
<rect x="567.81" y="320.20" width="1.72" height="1.20" fill="#7090b0" opacity="0.68"/>
<rect x="569.82" y="320.20" width="1.08" height="1.20" fill="#7090b0" opacity="0.68"/>
<rect x="571.21" y="320.20" width="1.55" height="1.20" fill="#7090b0" opacity="0.68"/>
<rect x="573.05" y="320.20" width="0.95" height="1.20" fill="#7090b0" opacity="0.68"/>
<rect x="549.5" y="323" width="37.6" height="24.5" fill="#fff" stroke="#999" stroke-width="0.4"/>
<path d="M549.5,328.2 h37.6 M572,323 v24.5" stroke="#999" stroke-width="0.4"/>
<rect x="555.00" y="325.00" width="0.83" height="1.20" fill="#444" opacity="0.85"/>
<rect x="556.13" y="325.00" width="1.95" height="1.20" fill="#444" opacity="0.85"/>
<rect x="558.38" y="325.00" width="1.33" height="1.20" fill="#444" opacity="0.85"/>
<rect x="560.62" y="325.00" width="1.89" height="1.20" fill="#444" opacity="0.85"/>
<rect x="562.81" y="325.00" width="0.86" height="1.20" fill="#444" opacity="0.85"/>
<rect x="563.97" y="325.00" width="1.03" height="1.20" fill="#444" opacity="0.85"/>
<rect x="574.00" y="325.00" width="1.74" height="1.20" fill="#444" opacity="0.85"/>
<rect x="576.04" y="325.00" width="1.06" height="1.20" fill="#444" opacity="0.85"/>
<rect x="577.40" y="325.00" width="0.92" height="1.20" fill="#444" opacity="0.85"/>
<rect x="578.62" y="325.00" width="0.90" height="1.20" fill="#444" opacity="0.85"/>
<rect x="550.00" y="330.90" width="1.50" height="1.20" fill="#555" opacity="0.68"/>
<rect x="551.80" y="330.90" width="1.00" height="1.20" fill="#555" opacity="0.68"/>
<rect x="553.10" y="330.90" width="1.70" height="1.20" fill="#555" opacity="0.68"/>
<rect x="555.10" y="330.90" width="1.37" height="1.20" fill="#555" opacity="0.68"/>
<rect x="556.77" y="330.90" width="2.04" height="1.20" fill="#555" opacity="0.68"/>
<rect x="559.10" y="330.90" width="1.67" height="1.20" fill="#555" opacity="0.68"/>
<rect x="561.08" y="330.90" width="2.03" height="1.20" fill="#555" opacity="0.68"/>
<rect x="563.41" y="330.90" width="1.02" height="1.20" fill="#555" opacity="0.68"/>
<rect x="564.73" y="330.90" width="1.27" height="1.20" fill="#555" opacity="0.68"/>
<rect x="574.00" y="330.95" width="2.03" height="1.10" fill="#777" opacity="0.59"/>
<rect x="576.33" y="330.95" width="1.97" height="1.10" fill="#777" opacity="0.59"/>
<rect x="578.60" y="330.95" width="1.78" height="1.10" fill="#777" opacity="0.59"/>
<rect x="581.28" y="330.95" width="0.72" height="1.10" fill="#777" opacity="0.59"/>
<path d="M549.5,333.50 h37.6" stroke="#ccc" stroke-width="0.3"/>
<rect x="550.00" y="334.90" width="0.93" height="1.20" fill="#555" opacity="0.68"/>
<rect x="551.23" y="334.90" width="1.50" height="1.20" fill="#555" opacity="0.68"/>
<rect x="553.03" y="334.90" width="0.97" height="1.20" fill="#555" opacity="0.68"/>
<rect x="554.30" y="334.90" width="1.12" height="1.20" fill="#555" opacity="0.68"/>
<rect x="555.71" y="334.90" width="0.94" height="1.20" fill="#555" opacity="0.68"/>
<rect x="557.55" y="334.90" width="1.92" height="1.20" fill="#555" opacity="0.68"/>
<rect x="560.37" y="334.90" width="0.84" height="1.20" fill="#555" opacity="0.68"/>
<rect x="562.11" y="334.90" width="0.96" height="1.20" fill="#555" opacity="0.68"/>
<rect x="563.37" y="334.90" width="1.56" height="1.20" fill="#555" opacity="0.68"/>
<rect x="565.23" y="334.90" width="0.77" height="1.20" fill="#555" opacity="0.68"/>
<rect x="574.00" y="334.95" width="0.84" height="1.10" fill="#777" opacity="0.59"/>
<rect x="575.14" y="334.95" width="1.13" height="1.10" fill="#777" opacity="0.59"/>
<rect x="576.57" y="334.95" width="1.46" height="1.10" fill="#777" opacity="0.59"/>
<rect x="578.93" y="334.95" width="1.21" height="1.10" fill="#777" opacity="0.59"/>
<rect x="580.44" y="334.95" width="1.56" height="1.10" fill="#777" opacity="0.59"/>
<path d="M549.5,337.50 h37.6" stroke="#ccc" stroke-width="0.3"/>
<rect x="550.00" y="338.90" width="1.63" height="1.20" fill="#555" opacity="0.68"/>
<rect x="551.93" y="338.90" width="0.83" height="1.20" fill="#555" opacity="0.68"/>
<rect x="553.06" y="338.90" width="1.24" height="1.20" fill="#555" opacity="0.68"/>
<rect x="554.60" y="338.90" width="1.05" height="1.20" fill="#555" opacity="0.68"/>
<rect x="555.95" y="338.90" width="0.84" height="1.20" fill="#555" opacity="0.68"/>
<rect x="557.09" y="338.90" width="1.76" height="1.20" fill="#555" opacity="0.68"/>
<rect x="559.75" y="338.90" width="1.68" height="1.20" fill="#555" opacity="0.68"/>
<rect x="562.34" y="338.90" width="1.80" height="1.20" fill="#555" opacity="0.68"/>
<rect x="565.04" y="338.90" width="0.87" height="1.20" fill="#555" opacity="0.68"/>
<rect x="574.00" y="338.95" width="1.02" height="1.10" fill="#777" opacity="0.59"/>
<rect x="575.32" y="338.95" width="1.09" height="1.10" fill="#777" opacity="0.59"/>
<rect x="576.70" y="338.95" width="1.25" height="1.10" fill="#777" opacity="0.59"/>
<rect x="578.25" y="338.95" width="1.57" height="1.10" fill="#777" opacity="0.59"/>
<rect x="580.72" y="338.95" width="1.02" height="1.10" fill="#777" opacity="0.59"/>
<path d="M549.5,341.50 h37.6" stroke="#ccc" stroke-width="0.3"/>
<rect x="550.00" y="342.60" width="0.92" height="1.20" fill="#555" opacity="0.68"/>
<rect x="551.22" y="342.60" width="1.49" height="1.20" fill="#555" opacity="0.68"/>
<rect x="553.00" y="342.60" width="1.34" height="1.20" fill="#555" opacity="0.68"/>
<rect x="554.65" y="342.60" width="1.66" height="1.20" fill="#555" opacity="0.68"/>
<rect x="556.61" y="342.60" width="1.76" height="1.20" fill="#555" opacity="0.68"/>
<rect x="558.66" y="342.60" width="1.11" height="1.20" fill="#555" opacity="0.68"/>
<rect x="560.67" y="342.60" width="1.45" height="1.20" fill="#555" opacity="0.68"/>
<rect x="562.42" y="342.60" width="1.91" height="1.20" fill="#555" opacity="0.68"/>
<rect x="564.63" y="342.60" width="1.01" height="1.20" fill="#555" opacity="0.68"/>
<rect x="574.00" y="342.65" width="1.14" height="1.10" fill="#777" opacity="0.59"/>
<rect x="576.04" y="342.65" width="1.32" height="1.10" fill="#777" opacity="0.59"/>
<rect x="578.26" y="342.65" width="1.63" height="1.10" fill="#777" opacity="0.59"/>
<rect x="580.79" y="342.65" width="1.21" height="1.10" fill="#777" opacity="0.59"/>
<path d="M549.5,345.20 h37.6" stroke="#ccc" stroke-width="0.3"/>
<rect x="471.00" y="362.00" width="123.00" height="11.20" fill="#c4f66a" />
<path d="M471,367.2 h123" stroke="#d8f8b0" stroke-width="0.4"/>
<rect x="494.00" y="363.50" width="2.18" height="2.20" fill="#333" opacity="0.85"/>
<rect x="497.08" y="363.50" width="0.92" height="2.20" fill="#333" opacity="0.85"/>
<rect x="531.00" y="363.50" width="0.91" height="2.20" fill="#333" opacity="0.85"/>
<rect x="532.21" y="363.50" width="2.03" height="2.20" fill="#333" opacity="0.85"/>
<rect x="534.54" y="363.50" width="0.96" height="2.20" fill="#333" opacity="0.85"/>
<rect x="567.60" y="363.50" width="1.65" height="2.20" fill="#333" opacity="0.85"/>
<rect x="569.55" y="363.50" width="1.79" height="2.20" fill="#333" opacity="0.85"/>
<rect x="472.50" y="369.00" width="0.94" height="2.40" fill="#222" opacity="0.85"/>
<rect x="473.74" y="369.00" width="1.44" height="2.40" fill="#222" opacity="0.85"/>
<rect x="476.07" y="369.00" width="1.03" height="2.40" fill="#222" opacity="0.85"/>
<rect x="477.40" y="369.00" width="0.60" height="2.40" fill="#222" opacity="0.85"/>
<rect x="485.30" y="369.00" width="1.10" height="2.40" fill="#222" opacity="0.85"/>
<rect x="487.30" y="369.00" width="1.22" height="2.40" fill="#222" opacity="0.85"/>
<rect x="488.81" y="369.00" width="1.75" height="2.40" fill="#222" opacity="0.85"/>
<rect x="500.50" y="369.00" width="0.90" height="2.40" fill="#222" opacity="0.85"/>
<rect x="501.70" y="369.00" width="0.80" height="2.40" fill="#222" opacity="0.85"/>
<rect x="509.50" y="369.00" width="1.47" height="2.40" fill="#222" opacity="0.85"/>
<rect x="511.87" y="369.00" width="1.66" height="2.40" fill="#222" opacity="0.85"/>
<rect x="514.43" y="369.00" width="0.57" height="2.40" fill="#222" opacity="0.85"/>
<rect x="526.00" y="369.00" width="1.90" height="2.40" fill="#222" opacity="0.85"/>
<rect x="528.20" y="369.00" width="1.86" height="2.40" fill="#222" opacity="0.85"/>
<rect x="530.95" y="369.00" width="2.14" height="2.40" fill="#222" opacity="0.85"/>
<rect x="548.30" y="369.00" width="1.43" height="2.40" fill="#222" opacity="0.85"/>
<rect x="550.03" y="369.00" width="1.05" height="2.40" fill="#222" opacity="0.85"/>
<rect x="551.38" y="369.00" width="1.70" height="2.40" fill="#222" opacity="0.85"/>
<rect x="553.38" y="369.00" width="0.92" height="2.40" fill="#222" opacity="0.85"/>
<rect x="563.00" y="369.00" width="1.20" height="2.40" fill="#222" opacity="0.85"/>
<rect x="571.80" y="369.00" width="1.68" height="2.40" fill="#222" opacity="0.85"/>
<rect x="573.78" y="369.00" width="1.31" height="2.40" fill="#222" opacity="0.85"/>
<rect x="575.38" y="369.00" width="1.71" height="2.40" fill="#222" opacity="0.85"/>
<rect x="577.39" y="369.00" width="1.49" height="2.40" fill="#222" opacity="0.85"/>
<rect x="584.00" y="369.00" width="1.09" height="2.40" fill="#222" opacity="0.85"/>
<rect x="585.39" y="369.00" width="2.03" height="2.40" fill="#222" opacity="0.85"/>
<rect x="587.72" y="369.00" width="0.92" height="2.40" fill="#222" opacity="0.85"/>
<rect x="588.93" y="369.00" width="1.61" height="2.40" fill="#222" opacity="0.85"/>
<path d="M471,373.4 h123" stroke="#e0a0e0" stroke-width="0.5" stroke-dasharray="0.6 0.6"/>
<path d="M471,379.50 h123" stroke="#8a8a8a" stroke-width="0.6" stroke-dasharray="0.7 0.8"/>
<rect x="481.20" y="374.90" width="1.68" height="2.60" fill="#2a2a2a" opacity="0.85"/>
<rect x="491.90" y="374.90" width="1.33" height="2.60" fill="#2a2a2a" opacity="0.85"/>
<rect x="493.53" y="374.90" width="1.22" height="2.60" fill="#2a2a2a" opacity="0.85"/>
<rect x="495.05" y="374.90" width="0.85" height="2.60" fill="#2a2a2a" opacity="0.85"/>
<rect x="504.90" y="374.90" width="1.01" height="2.60" fill="#2a2a2a" opacity="0.85"/>
<rect x="506.21" y="374.90" width="0.90" height="2.60" fill="#2a2a2a" opacity="0.85"/>
<rect x="513.00" y="374.90" width="1.15" height="2.60" fill="#2a2a2a" opacity="0.85"/>
<rect x="520.60" y="374.90" width="1.15" height="2.60" fill="#2a2a2a" opacity="0.85"/>
<rect x="522.05" y="374.90" width="1.24" height="2.60" fill="#2a2a2a" opacity="0.85"/>
<rect x="523.58" y="374.90" width="1.38" height="2.60" fill="#2a2a2a" opacity="0.85"/>
<rect x="525.26" y="374.90" width="1.28" height="2.60" fill="#2a2a2a" opacity="0.85"/>
<rect x="527.44" y="374.90" width="1.16" height="2.60" fill="#2a2a2a" opacity="0.85"/>
<rect x="551.00" y="375.00" width="1.20" height="2.40" fill="#555" opacity="0.85"/>
<rect x="565.60" y="374.90" width="1.04" height="2.60" fill="#2a2a2a" opacity="0.85"/>
<rect x="566.94" y="374.90" width="1.32" height="2.60" fill="#2a2a2a" opacity="0.85"/>
<rect x="578.30" y="374.90" width="2.06" height="2.60" fill="#2a2a2a" opacity="0.85"/>
<rect x="580.66" y="374.90" width="0.64" height="2.60" fill="#2a2a2a" opacity="0.85"/>
<rect x="592.30" y="374.90" width="1.50" height="2.60" fill="#2a2a2a" opacity="0.85"/>
<path d="M471,386.00 h123" stroke="#8a8a8a" stroke-width="0.6" stroke-dasharray="0.7 0.8"/>
<rect x="481.20" y="381.40" width="0.93" height="2.60" fill="#2a2a2a" opacity="0.85"/>
<rect x="482.43" y="381.40" width="0.97" height="2.60" fill="#2a2a2a" opacity="0.85"/>
<rect x="491.90" y="381.40" width="1.67" height="2.60" fill="#2a2a2a" opacity="0.85"/>
<rect x="493.87" y="381.40" width="1.50" height="2.60" fill="#2a2a2a" opacity="0.85"/>
<rect x="504.90" y="381.40" width="0.89" height="2.60" fill="#2a2a2a" opacity="0.85"/>
<rect x="506.09" y="381.40" width="1.81" height="2.60" fill="#2a2a2a" opacity="0.85"/>
<rect x="513.00" y="381.40" width="1.15" height="2.60" fill="#2a2a2a" opacity="0.85"/>
<rect x="520.60" y="381.40" width="1.04" height="2.60" fill="#2a2a2a" opacity="0.85"/>
<rect x="521.94" y="381.40" width="1.78" height="2.60" fill="#2a2a2a" opacity="0.85"/>
<rect x="524.03" y="381.40" width="1.08" height="2.60" fill="#2a2a2a" opacity="0.85"/>
<rect x="525.40" y="381.40" width="0.70" height="2.60" fill="#2a2a2a" opacity="0.85"/>
<rect x="551.00" y="381.50" width="0.91" height="2.40" fill="#555" opacity="0.85"/>
<rect x="565.60" y="381.40" width="1.36" height="2.60" fill="#2a2a2a" opacity="0.85"/>
<rect x="567.26" y="381.40" width="1.14" height="2.60" fill="#2a2a2a" opacity="0.85"/>
<rect x="578.30" y="381.40" width="2.10" height="2.60" fill="#2a2a2a" opacity="0.85"/>
<rect x="580.70" y="381.40" width="0.60" height="2.60" fill="#2a2a2a" opacity="0.85"/>
<rect x="592.30" y="381.40" width="1.27" height="2.60" fill="#2a2a2a" opacity="0.85"/>
<path d="M471,392.50 h123" stroke="#8a8a8a" stroke-width="0.6" stroke-dasharray="0.7 0.8"/>
<rect x="481.20" y="387.90" width="1.89" height="2.60" fill="#2a2a2a" opacity="0.85"/>
<rect x="491.90" y="387.90" width="1.59" height="2.60" fill="#2a2a2a" opacity="0.85"/>
<rect x="493.79" y="387.90" width="2.00" height="2.60" fill="#2a2a2a" opacity="0.85"/>
<rect x="504.90" y="387.90" width="1.78" height="2.60" fill="#2a2a2a" opacity="0.85"/>
<rect x="506.98" y="387.90" width="0.92" height="2.60" fill="#2a2a2a" opacity="0.85"/>
<rect x="513.00" y="387.90" width="1.12" height="2.60" fill="#2a2a2a" opacity="0.85"/>
<rect x="520.60" y="387.90" width="1.23" height="2.60" fill="#2a2a2a" opacity="0.85"/>
<rect x="522.13" y="387.90" width="1.77" height="2.60" fill="#2a2a2a" opacity="0.85"/>
<rect x="524.20" y="387.90" width="1.94" height="2.60" fill="#2a2a2a" opacity="0.85"/>
<rect x="551.00" y="388.00" width="1.20" height="2.40" fill="#555" opacity="0.85"/>
<rect x="565.60" y="387.90" width="1.75" height="2.60" fill="#2a2a2a" opacity="0.85"/>
<rect x="567.65" y="387.90" width="0.95" height="2.60" fill="#2a2a2a" opacity="0.85"/>
<rect x="578.30" y="387.90" width="1.27" height="2.60" fill="#2a2a2a" opacity="0.85"/>
<rect x="579.87" y="387.90" width="0.80" height="2.60" fill="#2a2a2a" opacity="0.85"/>
<rect x="592.30" y="387.90" width="1.23" height="2.60" fill="#2a2a2a" opacity="0.85"/>
<path d="M471,399.00 h123" stroke="#8a8a8a" stroke-width="0.6" stroke-dasharray="0.7 0.8"/>
<rect x="481.20" y="394.40" width="1.64" height="2.60" fill="#2a2a2a" opacity="0.85"/>
<rect x="491.90" y="394.40" width="2.19" height="2.60" fill="#2a2a2a" opacity="0.85"/>
<rect x="494.39" y="394.40" width="1.51" height="2.60" fill="#2a2a2a" opacity="0.85"/>
<rect x="504.90" y="394.40" width="1.63" height="2.60" fill="#2a2a2a" opacity="0.85"/>
<rect x="506.83" y="394.40" width="1.07" height="2.60" fill="#2a2a2a" opacity="0.85"/>
<rect x="513.00" y="394.40" width="1.39" height="2.60" fill="#2a2a2a" opacity="0.85"/>
<rect x="520.60" y="394.40" width="1.91" height="2.60" fill="#2a2a2a" opacity="0.85"/>
<rect x="522.81" y="394.40" width="2.00" height="2.60" fill="#2a2a2a" opacity="0.85"/>
<rect x="525.10" y="394.40" width="1.00" height="2.60" fill="#2a2a2a" opacity="0.85"/>
<rect x="551.00" y="394.50" width="1.20" height="2.40" fill="#555" opacity="0.85"/>
<rect x="565.60" y="394.40" width="1.48" height="2.60" fill="#2a2a2a" opacity="0.85"/>
<rect x="567.38" y="394.40" width="1.22" height="2.60" fill="#2a2a2a" opacity="0.85"/>
<rect x="578.30" y="394.40" width="1.09" height="2.60" fill="#2a2a2a" opacity="0.85"/>
<rect x="580.29" y="394.40" width="1.01" height="2.60" fill="#2a2a2a" opacity="0.85"/>
<rect x="592.30" y="394.40" width="1.50" height="2.60" fill="#2a2a2a" opacity="0.85"/>
<path d="M471,405.50 h123" stroke="#8a8a8a" stroke-width="0.6" stroke-dasharray="0.7 0.8"/>
<rect x="481.20" y="400.90" width="0.92" height="2.60" fill="#2a2a2a" opacity="0.85"/>
<rect x="482.42" y="400.90" width="0.98" height="2.60" fill="#2a2a2a" opacity="0.85"/>
<rect x="491.90" y="400.90" width="1.99" height="2.60" fill="#2a2a2a" opacity="0.85"/>
<rect x="494.79" y="400.90" width="1.11" height="2.60" fill="#2a2a2a" opacity="0.85"/>
<rect x="504.90" y="400.90" width="1.67" height="2.60" fill="#2a2a2a" opacity="0.85"/>
<rect x="506.87" y="400.90" width="1.03" height="2.60" fill="#2a2a2a" opacity="0.85"/>
<rect x="513.00" y="400.90" width="1.33" height="2.60" fill="#2a2a2a" opacity="0.85"/>
<rect x="520.60" y="400.90" width="1.20" height="2.60" fill="#2a2a2a" opacity="0.85"/>
<rect x="522.10" y="400.90" width="1.02" height="2.60" fill="#2a2a2a" opacity="0.85"/>
<rect x="523.42" y="400.90" width="0.82" height="2.60" fill="#2a2a2a" opacity="0.85"/>
<rect x="524.54" y="400.90" width="1.04" height="2.60" fill="#2a2a2a" opacity="0.85"/>
<rect x="525.88" y="400.90" width="1.65" height="2.60" fill="#2a2a2a" opacity="0.85"/>
<rect x="527.83" y="400.90" width="0.77" height="2.60" fill="#2a2a2a" opacity="0.85"/>
<rect x="551.00" y="401.00" width="1.20" height="2.40" fill="#555" opacity="0.85"/>
<rect x="565.60" y="400.90" width="1.14" height="2.60" fill="#2a2a2a" opacity="0.85"/>
<rect x="567.04" y="400.90" width="1.56" height="2.60" fill="#2a2a2a" opacity="0.85"/>
<rect x="578.30" y="400.90" width="1.52" height="2.60" fill="#2a2a2a" opacity="0.85"/>
<rect x="580.12" y="400.90" width="1.10" height="2.60" fill="#2a2a2a" opacity="0.85"/>
<rect x="592.30" y="400.90" width="1.50" height="2.60" fill="#2a2a2a" opacity="0.85"/>
<path d="M471,412.00 h123" stroke="#8a8a8a" stroke-width="0.6" stroke-dasharray="0.7 0.8"/>
<rect x="481.20" y="407.40" width="1.71" height="2.60" fill="#2a2a2a" opacity="0.85"/>
<rect x="491.90" y="407.40" width="1.84" height="2.60" fill="#2a2a2a" opacity="0.85"/>
<rect x="494.64" y="407.40" width="1.26" height="2.60" fill="#2a2a2a" opacity="0.85"/>
<rect x="504.90" y="407.40" width="1.03" height="2.60" fill="#2a2a2a" opacity="0.85"/>
<rect x="506.23" y="407.40" width="1.67" height="2.60" fill="#2a2a2a" opacity="0.85"/>
<rect x="513.00" y="407.40" width="1.60" height="2.60" fill="#2a2a2a" opacity="0.85"/>
<rect x="520.60" y="407.40" width="1.41" height="2.60" fill="#2a2a2a" opacity="0.85"/>
<rect x="522.91" y="407.40" width="1.24" height="2.60" fill="#2a2a2a" opacity="0.85"/>
<rect x="524.45" y="407.40" width="0.84" height="2.60" fill="#2a2a2a" opacity="0.85"/>
<rect x="525.59" y="407.40" width="1.00" height="2.60" fill="#2a2a2a" opacity="0.85"/>
<rect x="526.89" y="407.40" width="1.21" height="2.60" fill="#2a2a2a" opacity="0.85"/>
<rect x="551.00" y="407.50" width="1.20" height="2.40" fill="#555" opacity="0.85"/>
<rect x="565.60" y="407.40" width="1.52" height="2.60" fill="#2a2a2a" opacity="0.85"/>
<rect x="567.42" y="407.40" width="0.87" height="2.60" fill="#2a2a2a" opacity="0.85"/>
<rect x="578.30" y="407.40" width="1.19" height="2.60" fill="#2a2a2a" opacity="0.85"/>
<rect x="579.79" y="407.40" width="1.51" height="2.60" fill="#2a2a2a" opacity="0.85"/>
<rect x="592.30" y="407.40" width="1.02" height="2.60" fill="#2a2a2a" opacity="0.85"/>
<path d="M471,418.50 h123" stroke="#8a8a8a" stroke-width="0.6" stroke-dasharray="0.7 0.8"/>
<rect x="481.20" y="413.90" width="1.08" height="2.60" fill="#2a2a2a" opacity="0.85"/>
<rect x="482.58" y="413.90" width="0.82" height="2.60" fill="#2a2a2a" opacity="0.85"/>
<rect x="491.90" y="413.90" width="0.83" height="2.60" fill="#2a2a2a" opacity="0.85"/>
<rect x="493.63" y="413.90" width="1.64" height="2.60" fill="#2a2a2a" opacity="0.85"/>
<rect x="504.90" y="413.90" width="1.73" height="2.60" fill="#2a2a2a" opacity="0.85"/>
<rect x="513.00" y="413.90" width="1.60" height="2.60" fill="#2a2a2a" opacity="0.85"/>
<rect x="520.60" y="413.90" width="1.18" height="2.60" fill="#2a2a2a" opacity="0.85"/>
<rect x="522.68" y="413.90" width="1.80" height="2.60" fill="#2a2a2a" opacity="0.85"/>
<rect x="524.78" y="413.90" width="1.97" height="2.60" fill="#2a2a2a" opacity="0.85"/>
<rect x="527.65" y="413.90" width="0.95" height="2.60" fill="#2a2a2a" opacity="0.85"/>
<rect x="551.00" y="414.00" width="1.20" height="2.40" fill="#555" opacity="0.85"/>
<rect x="565.60" y="413.90" width="1.95" height="2.60" fill="#2a2a2a" opacity="0.85"/>
<rect x="567.85" y="413.90" width="0.75" height="2.60" fill="#2a2a2a" opacity="0.85"/>
<rect x="578.30" y="413.90" width="1.50" height="2.60" fill="#2a2a2a" opacity="0.85"/>
<rect x="580.70" y="413.90" width="0.60" height="2.60" fill="#2a2a2a" opacity="0.85"/>
<rect x="592.30" y="413.90" width="1.50" height="2.60" fill="#2a2a2a" opacity="0.85"/>
<path d="M471,425.00 h123" stroke="#8a8a8a" stroke-width="0.6" stroke-dasharray="0.7 0.8"/>
<rect x="481.20" y="420.40" width="1.64" height="2.60" fill="#2a2a2a" opacity="0.85"/>
<rect x="491.90" y="420.40" width="1.24" height="2.60" fill="#2a2a2a" opacity="0.85"/>
<rect x="493.44" y="420.40" width="1.96" height="2.60" fill="#2a2a2a" opacity="0.85"/>
<rect x="504.90" y="420.40" width="2.11" height="2.60" fill="#2a2a2a" opacity="0.85"/>
<rect x="507.31" y="420.40" width="0.59" height="2.60" fill="#2a2a2a" opacity="0.85"/>
<rect x="513.00" y="420.40" width="1.28" height="2.60" fill="#2a2a2a" opacity="0.85"/>
<rect x="520.60" y="420.40" width="1.05" height="2.60" fill="#2a2a2a" opacity="0.85"/>
<rect x="521.95" y="420.40" width="2.07" height="2.60" fill="#2a2a2a" opacity="0.85"/>
<rect x="551.00" y="420.50" width="1.20" height="2.40" fill="#555" opacity="0.85"/>
<rect x="565.60" y="420.40" width="1.71" height="2.60" fill="#2a2a2a" opacity="0.85"/>
<rect x="578.30" y="420.40" width="1.23" height="2.60" fill="#2a2a2a" opacity="0.85"/>
<rect x="579.83" y="420.40" width="1.47" height="2.60" fill="#2a2a2a" opacity="0.85"/>
<rect x="592.30" y="420.40" width="1.50" height="2.60" fill="#2a2a2a" opacity="0.85"/>
<path d="M471,431.50 h123" stroke="#8a8a8a" stroke-width="0.6" stroke-dasharray="0.7 0.8"/>
<rect x="481.20" y="426.90" width="1.76" height="2.60" fill="#2a2a2a" opacity="0.85"/>
<rect x="491.90" y="426.90" width="1.32" height="2.60" fill="#2a2a2a" opacity="0.85"/>
<rect x="493.52" y="426.90" width="0.98" height="2.60" fill="#2a2a2a" opacity="0.85"/>
<rect x="494.80" y="426.90" width="1.10" height="2.60" fill="#2a2a2a" opacity="0.85"/>
<rect x="504.90" y="426.90" width="1.64" height="2.60" fill="#2a2a2a" opacity="0.85"/>
<rect x="513.00" y="426.90" width="1.60" height="2.60" fill="#2a2a2a" opacity="0.85"/>
<rect x="520.60" y="426.90" width="0.94" height="2.60" fill="#2a2a2a" opacity="0.85"/>
<rect x="521.84" y="426.90" width="1.40" height="2.60" fill="#2a2a2a" opacity="0.85"/>
<rect x="524.14" y="426.90" width="1.43" height="2.60" fill="#2a2a2a" opacity="0.85"/>
<rect x="551.00" y="427.00" width="1.20" height="2.40" fill="#555" opacity="0.85"/>
<rect x="565.60" y="426.90" width="1.30" height="2.60" fill="#2a2a2a" opacity="0.85"/>
<rect x="567.20" y="426.90" width="1.02" height="2.60" fill="#2a2a2a" opacity="0.85"/>
<rect x="578.30" y="426.90" width="0.87" height="2.60" fill="#2a2a2a" opacity="0.85"/>
<rect x="579.47" y="426.90" width="1.83" height="2.60" fill="#2a2a2a" opacity="0.85"/>
<rect x="592.30" y="426.90" width="1.43" height="2.60" fill="#2a2a2a" opacity="0.85"/>
<path d="M471,438.00 h123" stroke="#8a8a8a" stroke-width="0.6" stroke-dasharray="0.7 0.8"/>
<rect x="481.20" y="433.40" width="0.81" height="2.60" fill="#2a2a2a" opacity="0.85"/>
<rect x="482.31" y="433.40" width="1.09" height="2.60" fill="#2a2a2a" opacity="0.85"/>
<rect x="491.90" y="433.40" width="1.23" height="2.60" fill="#2a2a2a" opacity="0.85"/>
<rect x="494.03" y="433.40" width="1.23" height="2.60" fill="#2a2a2a" opacity="0.85"/>
<rect x="504.90" y="433.40" width="1.12" height="2.60" fill="#2a2a2a" opacity="0.85"/>
<rect x="506.32" y="433.40" width="1.36" height="2.60" fill="#2a2a2a" opacity="0.85"/>
<rect x="513.00" y="433.40" width="1.60" height="2.60" fill="#2a2a2a" opacity="0.85"/>
<rect x="520.60" y="433.40" width="1.69" height="2.60" fill="#2a2a2a" opacity="0.85"/>
<rect x="523.19" y="433.40" width="2.12" height="2.60" fill="#2a2a2a" opacity="0.85"/>
<rect x="525.61" y="433.40" width="0.99" height="2.60" fill="#2a2a2a" opacity="0.85"/>
<rect x="551.00" y="433.50" width="0.98" height="2.40" fill="#555" opacity="0.85"/>
<rect x="565.60" y="433.40" width="2.10" height="2.60" fill="#2a2a2a" opacity="0.85"/>
<rect x="568.00" y="433.40" width="0.60" height="2.60" fill="#2a2a2a" opacity="0.85"/>
<rect x="578.30" y="433.40" width="1.22" height="2.60" fill="#2a2a2a" opacity="0.85"/>
<rect x="579.82" y="433.40" width="1.48" height="2.60" fill="#2a2a2a" opacity="0.85"/>
<rect x="592.30" y="433.40" width="1.50" height="2.60" fill="#2a2a2a" opacity="0.85"/>
<path d="M471.5,373.4 V438" stroke="#bbb" stroke-width="0.5" stroke-dasharray="0.7 0.7"/>
<rect x="471.00" y="438.30" width="123.00" height="6.50" fill="#c4f66a" />
<rect x="481.60" y="440.30" width="1.71" height="2.40" fill="#333" opacity="0.85"/>
<rect x="502.50" y="440.30" width="1.21" height="2.40" fill="#333" opacity="0.85"/>
<rect x="504.01" y="440.30" width="1.48" height="2.40" fill="#333" opacity="0.85"/>
<rect x="513.00" y="440.30" width="0.90" height="2.40" fill="#333" opacity="0.85"/>
<rect x="530.80" y="440.30" width="1.84" height="2.40" fill="#333" opacity="0.85"/>
<rect x="532.94" y="440.30" width="1.36" height="2.40" fill="#333" opacity="0.85"/>
<rect x="550.30" y="440.30" width="1.40" height="2.40" fill="#333" opacity="0.85"/>
<rect x="561.50" y="440.30" width="1.95" height="2.40" fill="#333" opacity="0.85"/>
<rect x="564.35" y="440.30" width="0.65" height="2.40" fill="#333" opacity="0.85"/>
<rect x="592.50" y="440.30" width="1.27" height="2.40" fill="#333" opacity="0.85"/>
<line x1="599.3" y1="97.9" x2="625.5" y2="144.3" stroke="#000" stroke-width="0.9"/>
<polygon points="579.3,62.7 594.1,100.8 604.4,95.0" fill="#000" />
<polygon points="645.5,179.5 620.4,147.2 630.7,141.4" fill="#000" />
<line x1="635.3" y1="302.3" x2="610.4" y2="347.7" stroke="#000" stroke-width="0.9"/>
<polygon points="653.0,269.8 630.6,299.7 639.9,304.8" fill="#000" />
<polygon points="592.7,380.2 605.8,345.2 615.1,350.3" fill="#000" />
<path d="M594,223 Q590,232 596,239 Q602,245 614,246 L628,246 L629,241 L605,232 Z" fill="#cccccc" opacity="0.85"/>
<path d="M605,231.9 L629.2,240.1 L629.2,241.8 L605,233.6 Z" fill="#cfcfcf" stroke="#111" stroke-width="0.6"/>
<path d="M605,231.9 L634.8,207.9 L659,216 L629.2,240.1 Z" fill="#efefef" stroke="#111" stroke-width="1"/>
<g stroke="#c4c4cc" stroke-width="0.5"><path d="M609,233.5 L637,211 M613,235 L641,212.5 M617,236.4 L645,214 M621,237.8 L649,215.4 M612,229 L620,238.6 M618,224.2 L626,233.8 M624,219.4 L632,229"/></g>
<polygon points="592.3,205.9 622,181.7 634.8,207.9 605,231.9" fill="#e6e6e6" stroke="#111" stroke-width="1.3"/>
<polygon points="596.8,205.5 620.8,186.2 631.6,207.5 607.3,227.3" fill="#d6e2f6" stroke="#555" stroke-width="0.5"/>
<path d="M632,236 C631,222 638,213 650,213 C662,213 668.6,221 668.6,233 C668.6,241 662,243 650,243 C638,243 632.3,242 632,236 Z" fill="url(#stripeOlive)" stroke="#111" stroke-width="1.5"/>
<circle cx="649.4" cy="204.5" r="10.4" fill="#f6e4d8" stroke="#111" stroke-width="1.4"/>
<!--/S-->
<path d="M604.6,466 C609.5,465 614.5,464.6 616.5,467.2 C618.6,470 617,474.6 611.8,475.6 L606.8,476 M611,475.8 C616.5,475.8 619.3,479.4 619.3,483.4 C619.3,489.2 613,492.3 604,492" fill="none" stroke="#000" stroke-width="2.7"/>

</svg>
</body></html>
